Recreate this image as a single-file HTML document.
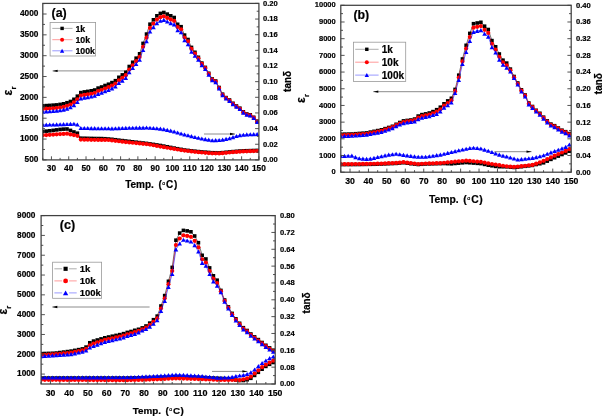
<!DOCTYPE html><html><head><meta charset="utf-8"><title>Dielectric</title><style>html,body{margin:0;padding:0;background:#fff;}svg{display:block;will-change:transform;}text{font-family:"Liberation Sans", sans-serif;font-weight:bold;fill:#000;stroke:#000;stroke-width:0.2px;}</style></head><body>
<svg width="602" height="416" viewBox="0 0 602 416">
<rect width="602" height="416" fill="#fff"/>
<defs><clipPath id="ca"><rect x="42.8" y="3.4" width="216.1" height="156.5"/></clipPath><clipPath id="cb"><rect x="340.8" y="5.3" width="230.4" height="166.9"/></clipPath><clipPath id="cc"><rect x="41.1" y="215.6" width="234.1" height="168.4"/></clipPath></defs>
<g clip-path="url(#ca)">
<path d="M42.8 105.8 L46.26 105.6 L49.72 105.4 L53.17 105.15 L56.63 104.9 L60.09 104.4 L63.55 103.8 L67 102.73 L70.46 101.47 L73.92 99.3 L77.38 96.2 L80.83 92.6 L84.29 91.9 L87.75 91.4 L91.21 90.8 L94.66 90 L98.12 88.1 L101.58 87 L105.04 85.5 L108.49 84.21 L111.95 82.61 L115.41 80.7 L118.87 77.3 L122.32 74.9 L125.78 72.2 L129.24 66.5 L132.7 62.3 L136.16 58.2 L139.61 53.8 L143.07 43.4 L146.53 34.1 L149.99 24.2 L153.44 19.8 L156.9 15.8 L160.36 13.4 L163.82 12.5 L167.27 14.1 L170.73 15.8 L174.19 17.5 L177.65 24.3 L181.1 26.7 L184.56 35.1 L188.02 39.5 L191.48 47.4 L194.93 52.3 L198.39 57.3 L201.85 63.1 L205.31 67.4 L208.76 73.3 L212.22 79 L215.68 81 L219.14 87.5 L222.6 94.2 L226.05 97.6 L229.51 100 L232.97 103.3 L236.43 106 L239.88 108.2 L243.34 111.8 L246.8 114 L250.26 114.8 L253.71 117.3 L257.17 121.2" fill="none" stroke="#000000" stroke-width="0.55"/>
<rect x="41" y="104" width="3.6" height="3.6" fill="#000"/><rect x="44.46" y="103.8" width="3.6" height="3.6" fill="#000"/><rect x="47.92" y="103.6" width="3.6" height="3.6" fill="#000"/><rect x="51.37" y="103.35" width="3.6" height="3.6" fill="#000"/><rect x="54.83" y="103.1" width="3.6" height="3.6" fill="#000"/><rect x="58.29" y="102.6" width="3.6" height="3.6" fill="#000"/><rect x="61.75" y="102" width="3.6" height="3.6" fill="#000"/><rect x="65.2" y="100.93" width="3.6" height="3.6" fill="#000"/><rect x="68.66" y="99.67" width="3.6" height="3.6" fill="#000"/><rect x="72.12" y="97.5" width="3.6" height="3.6" fill="#000"/><rect x="75.58" y="94.4" width="3.6" height="3.6" fill="#000"/><rect x="79.03" y="90.8" width="3.6" height="3.6" fill="#000"/><rect x="82.49" y="90.1" width="3.6" height="3.6" fill="#000"/><rect x="85.95" y="89.6" width="3.6" height="3.6" fill="#000"/><rect x="89.41" y="89" width="3.6" height="3.6" fill="#000"/><rect x="92.86" y="88.2" width="3.6" height="3.6" fill="#000"/><rect x="96.32" y="86.3" width="3.6" height="3.6" fill="#000"/><rect x="99.78" y="85.2" width="3.6" height="3.6" fill="#000"/><rect x="103.24" y="83.7" width="3.6" height="3.6" fill="#000"/><rect x="106.69" y="82.41" width="3.6" height="3.6" fill="#000"/><rect x="110.15" y="80.81" width="3.6" height="3.6" fill="#000"/><rect x="113.61" y="78.9" width="3.6" height="3.6" fill="#000"/><rect x="117.07" y="75.5" width="3.6" height="3.6" fill="#000"/><rect x="120.52" y="73.1" width="3.6" height="3.6" fill="#000"/><rect x="123.98" y="70.4" width="3.6" height="3.6" fill="#000"/><rect x="127.44" y="64.7" width="3.6" height="3.6" fill="#000"/><rect x="130.9" y="60.5" width="3.6" height="3.6" fill="#000"/><rect x="134.36" y="56.4" width="3.6" height="3.6" fill="#000"/><rect x="137.81" y="52" width="3.6" height="3.6" fill="#000"/><rect x="141.27" y="41.6" width="3.6" height="3.6" fill="#000"/><rect x="144.73" y="32.3" width="3.6" height="3.6" fill="#000"/><rect x="148.19" y="22.4" width="3.6" height="3.6" fill="#000"/><rect x="151.64" y="18" width="3.6" height="3.6" fill="#000"/><rect x="155.1" y="14" width="3.6" height="3.6" fill="#000"/><rect x="158.56" y="11.6" width="3.6" height="3.6" fill="#000"/><rect x="162.02" y="10.7" width="3.6" height="3.6" fill="#000"/><rect x="165.47" y="12.3" width="3.6" height="3.6" fill="#000"/><rect x="168.93" y="14" width="3.6" height="3.6" fill="#000"/><rect x="172.39" y="15.7" width="3.6" height="3.6" fill="#000"/><rect x="175.85" y="22.5" width="3.6" height="3.6" fill="#000"/><rect x="179.3" y="24.9" width="3.6" height="3.6" fill="#000"/><rect x="182.76" y="33.3" width="3.6" height="3.6" fill="#000"/><rect x="186.22" y="37.7" width="3.6" height="3.6" fill="#000"/><rect x="189.68" y="45.6" width="3.6" height="3.6" fill="#000"/><rect x="193.13" y="50.5" width="3.6" height="3.6" fill="#000"/><rect x="196.59" y="55.5" width="3.6" height="3.6" fill="#000"/><rect x="200.05" y="61.3" width="3.6" height="3.6" fill="#000"/><rect x="203.51" y="65.6" width="3.6" height="3.6" fill="#000"/><rect x="206.96" y="71.5" width="3.6" height="3.6" fill="#000"/><rect x="210.42" y="77.2" width="3.6" height="3.6" fill="#000"/><rect x="213.88" y="79.2" width="3.6" height="3.6" fill="#000"/><rect x="217.34" y="85.7" width="3.6" height="3.6" fill="#000"/><rect x="220.8" y="92.4" width="3.6" height="3.6" fill="#000"/><rect x="224.25" y="95.8" width="3.6" height="3.6" fill="#000"/><rect x="227.71" y="98.2" width="3.6" height="3.6" fill="#000"/><rect x="231.17" y="101.5" width="3.6" height="3.6" fill="#000"/><rect x="234.63" y="104.2" width="3.6" height="3.6" fill="#000"/><rect x="238.08" y="106.4" width="3.6" height="3.6" fill="#000"/><rect x="241.54" y="110" width="3.6" height="3.6" fill="#000"/><rect x="245" y="112.2" width="3.6" height="3.6" fill="#000"/><rect x="248.46" y="113" width="3.6" height="3.6" fill="#000"/><rect x="251.91" y="115.5" width="3.6" height="3.6" fill="#000"/><rect x="255.37" y="119.4" width="3.6" height="3.6" fill="#000"/>
<path d="M42.8 108.9 L46.26 108.7 L49.72 108.5 L53.17 108.25 L56.63 108 L60.09 107.5 L63.55 106.9 L67 105.83 L70.46 104.57 L73.92 102.4 L77.38 99.3 L80.83 95.6 L84.29 94.9 L87.75 94.4 L91.21 93.8 L94.66 93 L98.12 91.1 L101.58 90 L105.04 88.5 L108.49 87.21 L111.95 85.61 L115.41 83.7 L118.87 80.3 L122.32 77.9 L125.78 75.2 L129.24 69.5 L132.7 65.3 L136.16 61.2 L139.61 56.92 L143.07 46.76 L146.53 37.7 L149.99 27.88 L153.44 23.56 L156.9 19.6 L160.36 17.2 L163.82 16.3 L167.27 17.9 L170.73 19.6 L174.19 20.97 L177.65 27.1 L181.1 29.3 L184.56 37.5 L188.02 41.45 L191.48 48.9 L194.93 53.55 L198.39 58.3 L201.85 63.94 L205.31 68.08 L208.76 73.9 L212.22 79.59 L215.68 81.58 L219.14 88.08 L222.6 94.77 L226.05 98.16 L229.51 100.56 L232.97 103.85 L236.43 106.54 L239.88 108.74 L243.34 112.33 L246.8 114.52 L250.26 115.32 L253.71 117.81 L257.17 121.7" fill="none" stroke="#ff0000" stroke-width="0.55"/>
<circle cx="42.8" cy="108.9" r="2.1" fill="#f00"/><circle cx="46.26" cy="108.7" r="2.1" fill="#f00"/><circle cx="49.72" cy="108.5" r="2.1" fill="#f00"/><circle cx="53.17" cy="108.25" r="2.1" fill="#f00"/><circle cx="56.63" cy="108" r="2.1" fill="#f00"/><circle cx="60.09" cy="107.5" r="2.1" fill="#f00"/><circle cx="63.55" cy="106.9" r="2.1" fill="#f00"/><circle cx="67" cy="105.83" r="2.1" fill="#f00"/><circle cx="70.46" cy="104.57" r="2.1" fill="#f00"/><circle cx="73.92" cy="102.4" r="2.1" fill="#f00"/><circle cx="77.38" cy="99.3" r="2.1" fill="#f00"/><circle cx="80.83" cy="95.6" r="2.1" fill="#f00"/><circle cx="84.29" cy="94.9" r="2.1" fill="#f00"/><circle cx="87.75" cy="94.4" r="2.1" fill="#f00"/><circle cx="91.21" cy="93.8" r="2.1" fill="#f00"/><circle cx="94.66" cy="93" r="2.1" fill="#f00"/><circle cx="98.12" cy="91.1" r="2.1" fill="#f00"/><circle cx="101.58" cy="90" r="2.1" fill="#f00"/><circle cx="105.04" cy="88.5" r="2.1" fill="#f00"/><circle cx="108.49" cy="87.21" r="2.1" fill="#f00"/><circle cx="111.95" cy="85.61" r="2.1" fill="#f00"/><circle cx="115.41" cy="83.7" r="2.1" fill="#f00"/><circle cx="118.87" cy="80.3" r="2.1" fill="#f00"/><circle cx="122.32" cy="77.9" r="2.1" fill="#f00"/><circle cx="125.78" cy="75.2" r="2.1" fill="#f00"/><circle cx="129.24" cy="69.5" r="2.1" fill="#f00"/><circle cx="132.7" cy="65.3" r="2.1" fill="#f00"/><circle cx="136.16" cy="61.2" r="2.1" fill="#f00"/><circle cx="139.61" cy="56.92" r="2.1" fill="#f00"/><circle cx="143.07" cy="46.76" r="2.1" fill="#f00"/><circle cx="146.53" cy="37.7" r="2.1" fill="#f00"/><circle cx="149.99" cy="27.88" r="2.1" fill="#f00"/><circle cx="153.44" cy="23.56" r="2.1" fill="#f00"/><circle cx="156.9" cy="19.6" r="2.1" fill="#f00"/><circle cx="160.36" cy="17.2" r="2.1" fill="#f00"/><circle cx="163.82" cy="16.3" r="2.1" fill="#f00"/><circle cx="167.27" cy="17.9" r="2.1" fill="#f00"/><circle cx="170.73" cy="19.6" r="2.1" fill="#f00"/><circle cx="174.19" cy="20.97" r="2.1" fill="#f00"/><circle cx="177.65" cy="27.1" r="2.1" fill="#f00"/><circle cx="181.1" cy="29.3" r="2.1" fill="#f00"/><circle cx="184.56" cy="37.5" r="2.1" fill="#f00"/><circle cx="188.02" cy="41.45" r="2.1" fill="#f00"/><circle cx="191.48" cy="48.9" r="2.1" fill="#f00"/><circle cx="194.93" cy="53.55" r="2.1" fill="#f00"/><circle cx="198.39" cy="58.3" r="2.1" fill="#f00"/><circle cx="201.85" cy="63.94" r="2.1" fill="#f00"/><circle cx="205.31" cy="68.08" r="2.1" fill="#f00"/><circle cx="208.76" cy="73.9" r="2.1" fill="#f00"/><circle cx="212.22" cy="79.59" r="2.1" fill="#f00"/><circle cx="215.68" cy="81.58" r="2.1" fill="#f00"/><circle cx="219.14" cy="88.08" r="2.1" fill="#f00"/><circle cx="222.6" cy="94.77" r="2.1" fill="#f00"/><circle cx="226.05" cy="98.16" r="2.1" fill="#f00"/><circle cx="229.51" cy="100.56" r="2.1" fill="#f00"/><circle cx="232.97" cy="103.85" r="2.1" fill="#f00"/><circle cx="236.43" cy="106.54" r="2.1" fill="#f00"/><circle cx="239.88" cy="108.74" r="2.1" fill="#f00"/><circle cx="243.34" cy="112.33" r="2.1" fill="#f00"/><circle cx="246.8" cy="114.52" r="2.1" fill="#f00"/><circle cx="250.26" cy="115.32" r="2.1" fill="#f00"/><circle cx="253.71" cy="117.81" r="2.1" fill="#f00"/><circle cx="257.17" cy="121.7" r="2.1" fill="#f00"/>
<path d="M42.8 111.7 L46.26 111.5 L49.72 111.3 L53.17 111.05 L56.63 110.8 L60.09 110.3 L63.55 109.7 L67 108.63 L70.46 107.37 L73.92 105.2 L77.38 102.1 L80.83 98.4 L84.29 97.7 L87.75 97.2 L91.21 96.6 L94.66 95.8 L98.12 93.9 L101.58 92.8 L105.04 91.3 L108.49 90.01 L111.95 88.41 L115.41 86.5 L118.87 83.1 L122.32 80.7 L125.78 78 L129.24 72.3 L132.7 68.1 L136.16 64 L139.61 59.88 L143.07 50.04 L146.53 41.3 L149.99 31.48 L153.44 27.16 L156.9 23.2 L160.36 20.8 L163.82 19.9 L167.27 21.5 L170.73 23.2 L174.19 24.43 L177.65 30.3 L181.1 32.3 L184.56 40.3 L188.02 44.3 L191.48 51.8 L194.93 55.75 L198.39 59.8 L201.85 65.2 L205.31 69.1 L208.76 74.74 L212.22 80.32 L215.68 82.2 L219.14 88.58 L222.6 95.16 L226.05 98.49 L229.51 100.89 L232.97 104.17 L236.43 106.86 L239.88 109.06 L243.34 112.64 L246.8 114.83 L250.26 115.62 L253.71 118.11 L257.17 122.01" fill="none" stroke="#0000ff" stroke-width="0.55"/>
<path d="M42.8 109.6L45.1 113.7L40.5 113.7Z" fill="#00f"/><path d="M46.26 109.4L48.56 113.5L43.96 113.5Z" fill="#00f"/><path d="M49.72 109.2L52.02 113.3L47.42 113.3Z" fill="#00f"/><path d="M53.17 108.95L55.47 113.05L50.87 113.05Z" fill="#00f"/><path d="M56.63 108.7L58.93 112.8L54.33 112.8Z" fill="#00f"/><path d="M60.09 108.2L62.39 112.3L57.79 112.3Z" fill="#00f"/><path d="M63.55 107.6L65.85 111.7L61.25 111.7Z" fill="#00f"/><path d="M67 106.53L69.3 110.63L64.7 110.63Z" fill="#00f"/><path d="M70.46 105.27L72.76 109.36L68.16 109.36Z" fill="#00f"/><path d="M73.92 103.1L76.22 107.2L71.62 107.2Z" fill="#00f"/><path d="M77.38 100L79.68 104.1L75.08 104.1Z" fill="#00f"/><path d="M80.83 96.3L83.13 100.39L78.53 100.39Z" fill="#00f"/><path d="M84.29 95.6L86.59 99.7L81.99 99.7Z" fill="#00f"/><path d="M87.75 95.1L90.05 99.2L85.45 99.2Z" fill="#00f"/><path d="M91.21 94.5L93.51 98.59L88.91 98.59Z" fill="#00f"/><path d="M94.66 93.7L96.96 97.8L92.36 97.8Z" fill="#00f"/><path d="M98.12 91.8L100.42 95.89L95.82 95.89Z" fill="#00f"/><path d="M101.58 90.7L103.88 94.8L99.28 94.8Z" fill="#00f"/><path d="M105.04 89.2L107.34 93.3L102.74 93.3Z" fill="#00f"/><path d="M108.49 87.91L110.79 92L106.19 92Z" fill="#00f"/><path d="M111.95 86.31L114.25 90.41L109.65 90.41Z" fill="#00f"/><path d="M115.41 84.4L117.71 88.5L113.11 88.5Z" fill="#00f"/><path d="M118.87 81L121.17 85.09L116.57 85.09Z" fill="#00f"/><path d="M122.32 78.6L124.62 82.7L120.02 82.7Z" fill="#00f"/><path d="M125.78 75.9L128.08 80L123.48 80Z" fill="#00f"/><path d="M129.24 70.2L131.54 74.3L126.94 74.3Z" fill="#00f"/><path d="M132.7 66L135 70.09L130.4 70.09Z" fill="#00f"/><path d="M136.16 61.9L138.46 66L133.86 66Z" fill="#00f"/><path d="M139.61 57.78L141.91 61.87L137.31 61.87Z" fill="#00f"/><path d="M143.07 47.94L145.37 52.03L140.77 52.03Z" fill="#00f"/><path d="M146.53 39.2L148.83 43.3L144.23 43.3Z" fill="#00f"/><path d="M149.99 29.38L152.29 33.48L147.69 33.48Z" fill="#00f"/><path d="M153.44 25.06L155.74 29.16L151.14 29.16Z" fill="#00f"/><path d="M156.9 21.1L159.2 25.2L154.6 25.2Z" fill="#00f"/><path d="M160.36 18.7L162.66 22.8L158.06 22.8Z" fill="#00f"/><path d="M163.82 17.8L166.12 21.89L161.52 21.89Z" fill="#00f"/><path d="M167.27 19.4L169.57 23.5L164.97 23.5Z" fill="#00f"/><path d="M170.73 21.1L173.03 25.2L168.43 25.2Z" fill="#00f"/><path d="M174.19 22.33L176.49 26.43L171.89 26.43Z" fill="#00f"/><path d="M177.65 28.2L179.95 32.3L175.35 32.3Z" fill="#00f"/><path d="M181.1 30.2L183.4 34.29L178.8 34.29Z" fill="#00f"/><path d="M184.56 38.2L186.86 42.3L182.26 42.3Z" fill="#00f"/><path d="M188.02 42.2L190.32 46.29L185.72 46.29Z" fill="#00f"/><path d="M191.48 49.7L193.78 53.79L189.18 53.79Z" fill="#00f"/><path d="M194.93 53.65L197.23 57.74L192.63 57.74Z" fill="#00f"/><path d="M198.39 57.7L200.69 61.79L196.09 61.79Z" fill="#00f"/><path d="M201.85 63.1L204.15 67.2L199.55 67.2Z" fill="#00f"/><path d="M205.31 67L207.61 71.1L203.01 71.1Z" fill="#00f"/><path d="M208.76 72.64L211.06 76.73L206.46 76.73Z" fill="#00f"/><path d="M212.22 78.22L214.52 82.31L209.92 82.31Z" fill="#00f"/><path d="M215.68 80.1L217.98 84.2L213.38 84.2Z" fill="#00f"/><path d="M219.14 86.48L221.44 90.58L216.84 90.58Z" fill="#00f"/><path d="M222.6 93.06L224.9 97.16L220.3 97.16Z" fill="#00f"/><path d="M226.05 96.39L228.35 100.49L223.75 100.49Z" fill="#00f"/><path d="M229.51 98.79L231.81 102.88L227.21 102.88Z" fill="#00f"/><path d="M232.97 102.08L235.27 106.17L230.67 106.17Z" fill="#00f"/><path d="M236.43 104.77L238.73 108.86L234.13 108.86Z" fill="#00f"/><path d="M239.88 106.96L242.18 111.05L237.58 111.05Z" fill="#00f"/><path d="M243.34 110.55L245.64 114.64L241.04 114.64Z" fill="#00f"/><path d="M246.8 112.73L249.1 116.83L244.5 116.83Z" fill="#00f"/><path d="M250.26 113.53L252.56 117.62L247.96 117.62Z" fill="#00f"/><path d="M253.71 116.02L256.01 120.11L251.41 120.11Z" fill="#00f"/><path d="M257.17 119.91L259.47 124L254.87 124Z" fill="#00f"/>
<path d="M42.8 131.5 L46.26 131.14 L49.72 130.78 L53.17 130.37 L56.63 129.9 L60.09 129.43 L63.55 129.13 L67 129 L70.46 130.4 L73.92 131.96 L77.38 133.2 L80.83 138.2 L84.29 138.27 L87.75 138.35 L91.21 138.43 L94.66 138.5 L98.12 138.54 L101.58 138.58 L105.04 138.74 L108.49 139.02 L111.95 139.3 L115.41 139.74 L118.87 140.18 L122.32 140.6 L125.78 141 L129.24 141.4 L132.7 141.8 L136.16 142.2 L139.61 142.6 L143.07 143 L146.53 143.4 L149.99 143.87 L153.44 144.4 L156.9 144.93 L160.36 145.47 L163.82 146.1 L167.27 146.77 L170.73 147.43 L174.19 148.09 L177.65 148.73 L181.1 149.36 L184.56 150 L188.02 150.4 L191.48 150.79 L194.93 151.19 L198.39 151.58 L201.85 151.92 L205.31 152.18 L208.76 152.44 L212.22 152.7 L215.68 152.74 L219.14 152.78 L222.6 152.62 L226.05 152.27 L229.51 151.92 L232.97 151.61 L236.43 151.33 L239.88 151.04 L243.34 150.84 L246.8 150.73 L250.26 150.62 L253.71 150.51 L257.17 150.4" fill="none" stroke="#000000" stroke-width="0.55"/>
<rect x="41" y="129.7" width="3.6" height="3.6" fill="#000"/><rect x="44.46" y="129.34" width="3.6" height="3.6" fill="#000"/><rect x="47.92" y="128.98" width="3.6" height="3.6" fill="#000"/><rect x="51.37" y="128.57" width="3.6" height="3.6" fill="#000"/><rect x="54.83" y="128.1" width="3.6" height="3.6" fill="#000"/><rect x="58.29" y="127.63" width="3.6" height="3.6" fill="#000"/><rect x="61.75" y="127.33" width="3.6" height="3.6" fill="#000"/><rect x="65.2" y="127.2" width="3.6" height="3.6" fill="#000"/><rect x="68.66" y="128.6" width="3.6" height="3.6" fill="#000"/><rect x="72.12" y="130.16" width="3.6" height="3.6" fill="#000"/><rect x="75.58" y="131.4" width="3.6" height="3.6" fill="#000"/><rect x="79.03" y="136.4" width="3.6" height="3.6" fill="#000"/><rect x="82.49" y="136.47" width="3.6" height="3.6" fill="#000"/><rect x="85.95" y="136.55" width="3.6" height="3.6" fill="#000"/><rect x="89.41" y="136.62" width="3.6" height="3.6" fill="#000"/><rect x="92.86" y="136.7" width="3.6" height="3.6" fill="#000"/><rect x="96.32" y="136.74" width="3.6" height="3.6" fill="#000"/><rect x="99.78" y="136.78" width="3.6" height="3.6" fill="#000"/><rect x="103.24" y="136.94" width="3.6" height="3.6" fill="#000"/><rect x="106.69" y="137.22" width="3.6" height="3.6" fill="#000"/><rect x="110.15" y="137.5" width="3.6" height="3.6" fill="#000"/><rect x="113.61" y="137.94" width="3.6" height="3.6" fill="#000"/><rect x="117.07" y="138.38" width="3.6" height="3.6" fill="#000"/><rect x="120.52" y="138.8" width="3.6" height="3.6" fill="#000"/><rect x="123.98" y="139.2" width="3.6" height="3.6" fill="#000"/><rect x="127.44" y="139.6" width="3.6" height="3.6" fill="#000"/><rect x="130.9" y="140" width="3.6" height="3.6" fill="#000"/><rect x="134.36" y="140.4" width="3.6" height="3.6" fill="#000"/><rect x="137.81" y="140.8" width="3.6" height="3.6" fill="#000"/><rect x="141.27" y="141.2" width="3.6" height="3.6" fill="#000"/><rect x="144.73" y="141.6" width="3.6" height="3.6" fill="#000"/><rect x="148.19" y="142.07" width="3.6" height="3.6" fill="#000"/><rect x="151.64" y="142.6" width="3.6" height="3.6" fill="#000"/><rect x="155.1" y="143.13" width="3.6" height="3.6" fill="#000"/><rect x="158.56" y="143.67" width="3.6" height="3.6" fill="#000"/><rect x="162.02" y="144.3" width="3.6" height="3.6" fill="#000"/><rect x="165.47" y="144.97" width="3.6" height="3.6" fill="#000"/><rect x="168.93" y="145.63" width="3.6" height="3.6" fill="#000"/><rect x="172.39" y="146.29" width="3.6" height="3.6" fill="#000"/><rect x="175.85" y="146.93" width="3.6" height="3.6" fill="#000"/><rect x="179.3" y="147.56" width="3.6" height="3.6" fill="#000"/><rect x="182.76" y="148.2" width="3.6" height="3.6" fill="#000"/><rect x="186.22" y="148.6" width="3.6" height="3.6" fill="#000"/><rect x="189.68" y="148.99" width="3.6" height="3.6" fill="#000"/><rect x="193.13" y="149.39" width="3.6" height="3.6" fill="#000"/><rect x="196.59" y="149.78" width="3.6" height="3.6" fill="#000"/><rect x="200.05" y="150.12" width="3.6" height="3.6" fill="#000"/><rect x="203.51" y="150.38" width="3.6" height="3.6" fill="#000"/><rect x="206.96" y="150.64" width="3.6" height="3.6" fill="#000"/><rect x="210.42" y="150.9" width="3.6" height="3.6" fill="#000"/><rect x="213.88" y="150.94" width="3.6" height="3.6" fill="#000"/><rect x="217.34" y="150.98" width="3.6" height="3.6" fill="#000"/><rect x="220.8" y="150.82" width="3.6" height="3.6" fill="#000"/><rect x="224.25" y="150.47" width="3.6" height="3.6" fill="#000"/><rect x="227.71" y="150.12" width="3.6" height="3.6" fill="#000"/><rect x="231.17" y="149.81" width="3.6" height="3.6" fill="#000"/><rect x="234.63" y="149.53" width="3.6" height="3.6" fill="#000"/><rect x="238.08" y="149.24" width="3.6" height="3.6" fill="#000"/><rect x="241.54" y="149.04" width="3.6" height="3.6" fill="#000"/><rect x="245" y="148.93" width="3.6" height="3.6" fill="#000"/><rect x="248.46" y="148.82" width="3.6" height="3.6" fill="#000"/><rect x="251.91" y="148.71" width="3.6" height="3.6" fill="#000"/><rect x="255.37" y="148.6" width="3.6" height="3.6" fill="#000"/>
<path d="M42.8 135.3 L46.26 135.06 L49.72 134.83 L53.17 134.59 L56.63 134.35 L60.09 134.12 L63.55 133.9 L67 133.7 L70.46 134.38 L73.92 135.06 L77.38 135.8 L80.83 139.6 L84.29 139.66 L87.75 139.72 L91.21 139.78 L94.66 139.84 L98.12 139.9 L101.58 139.93 L105.04 139.97 L108.49 140 L111.95 140.43 L115.41 140.85 L118.87 141.27 L122.32 141.7 L125.78 142.04 L129.24 142.39 L132.7 142.73 L136.16 143.08 L139.61 143.43 L143.07 143.78 L146.53 144.12 L149.99 144.62 L153.44 145.26 L156.9 145.9 L160.36 146.54 L163.82 147.16 L167.27 147.77 L170.73 148.37 L174.19 148.96 L177.65 149.51 L181.1 150.05 L184.56 150.6 L188.02 151 L191.48 151.39 L194.93 151.79 L198.39 152.18 L201.85 152.52 L205.31 152.78 L208.76 153.04 L212.22 153.3 L215.68 153.34 L219.14 153.38 L222.6 153.22 L226.05 152.87 L229.51 152.52 L232.97 152.21 L236.43 151.93 L239.88 151.64 L243.34 151.44 L246.8 151.33 L250.26 151.22 L253.71 151.11 L257.17 151" fill="none" stroke="#ff0000" stroke-width="0.55"/>
<circle cx="42.8" cy="135.3" r="2.1" fill="#f00"/><circle cx="46.26" cy="135.06" r="2.1" fill="#f00"/><circle cx="49.72" cy="134.83" r="2.1" fill="#f00"/><circle cx="53.17" cy="134.59" r="2.1" fill="#f00"/><circle cx="56.63" cy="134.35" r="2.1" fill="#f00"/><circle cx="60.09" cy="134.12" r="2.1" fill="#f00"/><circle cx="63.55" cy="133.9" r="2.1" fill="#f00"/><circle cx="67" cy="133.7" r="2.1" fill="#f00"/><circle cx="70.46" cy="134.38" r="2.1" fill="#f00"/><circle cx="73.92" cy="135.06" r="2.1" fill="#f00"/><circle cx="77.38" cy="135.8" r="2.1" fill="#f00"/><circle cx="80.83" cy="139.6" r="2.1" fill="#f00"/><circle cx="84.29" cy="139.66" r="2.1" fill="#f00"/><circle cx="87.75" cy="139.72" r="2.1" fill="#f00"/><circle cx="91.21" cy="139.78" r="2.1" fill="#f00"/><circle cx="94.66" cy="139.84" r="2.1" fill="#f00"/><circle cx="98.12" cy="139.9" r="2.1" fill="#f00"/><circle cx="101.58" cy="139.93" r="2.1" fill="#f00"/><circle cx="105.04" cy="139.97" r="2.1" fill="#f00"/><circle cx="108.49" cy="140" r="2.1" fill="#f00"/><circle cx="111.95" cy="140.43" r="2.1" fill="#f00"/><circle cx="115.41" cy="140.85" r="2.1" fill="#f00"/><circle cx="118.87" cy="141.27" r="2.1" fill="#f00"/><circle cx="122.32" cy="141.7" r="2.1" fill="#f00"/><circle cx="125.78" cy="142.04" r="2.1" fill="#f00"/><circle cx="129.24" cy="142.39" r="2.1" fill="#f00"/><circle cx="132.7" cy="142.73" r="2.1" fill="#f00"/><circle cx="136.16" cy="143.08" r="2.1" fill="#f00"/><circle cx="139.61" cy="143.43" r="2.1" fill="#f00"/><circle cx="143.07" cy="143.78" r="2.1" fill="#f00"/><circle cx="146.53" cy="144.12" r="2.1" fill="#f00"/><circle cx="149.99" cy="144.62" r="2.1" fill="#f00"/><circle cx="153.44" cy="145.26" r="2.1" fill="#f00"/><circle cx="156.9" cy="145.9" r="2.1" fill="#f00"/><circle cx="160.36" cy="146.54" r="2.1" fill="#f00"/><circle cx="163.82" cy="147.16" r="2.1" fill="#f00"/><circle cx="167.27" cy="147.77" r="2.1" fill="#f00"/><circle cx="170.73" cy="148.37" r="2.1" fill="#f00"/><circle cx="174.19" cy="148.96" r="2.1" fill="#f00"/><circle cx="177.65" cy="149.51" r="2.1" fill="#f00"/><circle cx="181.1" cy="150.05" r="2.1" fill="#f00"/><circle cx="184.56" cy="150.6" r="2.1" fill="#f00"/><circle cx="188.02" cy="151" r="2.1" fill="#f00"/><circle cx="191.48" cy="151.39" r="2.1" fill="#f00"/><circle cx="194.93" cy="151.79" r="2.1" fill="#f00"/><circle cx="198.39" cy="152.18" r="2.1" fill="#f00"/><circle cx="201.85" cy="152.52" r="2.1" fill="#f00"/><circle cx="205.31" cy="152.78" r="2.1" fill="#f00"/><circle cx="208.76" cy="153.04" r="2.1" fill="#f00"/><circle cx="212.22" cy="153.3" r="2.1" fill="#f00"/><circle cx="215.68" cy="153.34" r="2.1" fill="#f00"/><circle cx="219.14" cy="153.38" r="2.1" fill="#f00"/><circle cx="222.6" cy="153.22" r="2.1" fill="#f00"/><circle cx="226.05" cy="152.87" r="2.1" fill="#f00"/><circle cx="229.51" cy="152.52" r="2.1" fill="#f00"/><circle cx="232.97" cy="152.21" r="2.1" fill="#f00"/><circle cx="236.43" cy="151.93" r="2.1" fill="#f00"/><circle cx="239.88" cy="151.64" r="2.1" fill="#f00"/><circle cx="243.34" cy="151.44" r="2.1" fill="#f00"/><circle cx="246.8" cy="151.33" r="2.1" fill="#f00"/><circle cx="250.26" cy="151.22" r="2.1" fill="#f00"/><circle cx="253.71" cy="151.11" r="2.1" fill="#f00"/><circle cx="257.17" cy="151" r="2.1" fill="#f00"/>
<path d="M42.8 124.8 L46.26 124.7 L49.72 124.6 L53.17 124.5 L56.63 124.4 L60.09 124.3 L63.55 124.17 L67 124.05 L70.46 123.92 L73.92 123.8 L77.38 124.5 L80.83 128 L84.29 128.05 L87.75 128.1 L91.21 128.15 L94.66 128.2 L98.12 128.24 L101.58 128.28 L105.04 128.32 L108.49 128.36 L111.95 128.4 L115.41 128.28 L118.87 128.16 L122.32 128.04 L125.78 127.92 L129.24 127.8 L132.7 127.76 L136.16 127.72 L139.61 127.68 L143.07 127.64 L146.53 127.6 L149.99 127.86 L153.44 128.12 L156.9 128.38 L160.36 128.64 L163.82 129.22 L167.27 129.91 L170.73 130.64 L174.19 131.5 L177.65 132.5 L181.1 133.5 L184.56 134.5 L188.02 135.34 L191.48 136.17 L194.93 137.01 L198.39 137.84 L201.85 138.56 L205.31 139.14 L208.76 139.72 L212.22 140.3 L215.68 140.15 L219.14 140 L222.6 139.68 L226.05 138.97 L229.51 138.25 L232.97 137.2 L236.43 135.97 L239.88 135.14 L243.34 134.77 L246.8 134.47 L250.26 134.35 L253.71 134.22 L257.17 134.1" fill="none" stroke="#0000ff" stroke-width="0.55"/>
<path d="M42.8 122.7L45.1 126.8L40.5 126.8Z" fill="#00f"/><path d="M46.26 122.6L48.56 126.7L43.96 126.7Z" fill="#00f"/><path d="M49.72 122.5L52.02 126.59L47.42 126.59Z" fill="#00f"/><path d="M53.17 122.4L55.47 126.5L50.87 126.5Z" fill="#00f"/><path d="M56.63 122.3L58.93 126.39L54.33 126.39Z" fill="#00f"/><path d="M60.09 122.2L62.39 126.3L57.79 126.3Z" fill="#00f"/><path d="M63.55 122.08L65.85 126.17L61.25 126.17Z" fill="#00f"/><path d="M67 121.95L69.3 126.05L64.7 126.05Z" fill="#00f"/><path d="M70.46 121.83L72.76 125.92L68.16 125.92Z" fill="#00f"/><path d="M73.92 121.7L76.22 125.8L71.62 125.8Z" fill="#00f"/><path d="M77.38 122.4L79.68 126.5L75.08 126.5Z" fill="#00f"/><path d="M80.83 125.9L83.13 130L78.53 130Z" fill="#00f"/><path d="M84.29 125.95L86.59 130.05L81.99 130.05Z" fill="#00f"/><path d="M87.75 126L90.05 130.09L85.45 130.09Z" fill="#00f"/><path d="M91.21 126.05L93.51 130.14L88.91 130.14Z" fill="#00f"/><path d="M94.66 126.1L96.96 130.19L92.36 130.19Z" fill="#00f"/><path d="M98.12 126.14L100.42 130.23L95.82 130.23Z" fill="#00f"/><path d="M101.58 126.18L103.88 130.28L99.28 130.28Z" fill="#00f"/><path d="M105.04 126.22L107.34 130.31L102.74 130.31Z" fill="#00f"/><path d="M108.49 126.26L110.79 130.36L106.19 130.36Z" fill="#00f"/><path d="M111.95 126.3L114.25 130.4L109.65 130.4Z" fill="#00f"/><path d="M115.41 126.18L117.71 130.28L113.11 130.28Z" fill="#00f"/><path d="M118.87 126.06L121.17 130.16L116.57 130.16Z" fill="#00f"/><path d="M122.32 125.94L124.62 130.03L120.02 130.03Z" fill="#00f"/><path d="M125.78 125.82L128.08 129.91L123.48 129.91Z" fill="#00f"/><path d="M129.24 125.7L131.54 129.79L126.94 129.79Z" fill="#00f"/><path d="M132.7 125.66L135 129.75L130.4 129.75Z" fill="#00f"/><path d="M136.16 125.62L138.46 129.72L133.86 129.72Z" fill="#00f"/><path d="M139.61 125.58L141.91 129.67L137.31 129.67Z" fill="#00f"/><path d="M143.07 125.54L145.37 129.63L140.77 129.63Z" fill="#00f"/><path d="M146.53 125.5L148.83 129.59L144.23 129.59Z" fill="#00f"/><path d="M149.99 125.76L152.29 129.85L147.69 129.85Z" fill="#00f"/><path d="M153.44 126.02L155.74 130.11L151.14 130.11Z" fill="#00f"/><path d="M156.9 126.28L159.2 130.37L154.6 130.37Z" fill="#00f"/><path d="M160.36 126.54L162.66 130.63L158.06 130.63Z" fill="#00f"/><path d="M163.82 127.12L166.12 131.22L161.52 131.22Z" fill="#00f"/><path d="M167.27 127.81L169.57 131.91L164.97 131.91Z" fill="#00f"/><path d="M170.73 128.54L173.03 132.63L168.43 132.63Z" fill="#00f"/><path d="M174.19 129.4L176.49 133.5L171.89 133.5Z" fill="#00f"/><path d="M177.65 130.4L179.95 134.5L175.35 134.5Z" fill="#00f"/><path d="M181.1 131.4L183.4 135.5L178.8 135.5Z" fill="#00f"/><path d="M184.56 132.4L186.86 136.5L182.26 136.5Z" fill="#00f"/><path d="M188.02 133.24L190.32 137.33L185.72 137.33Z" fill="#00f"/><path d="M191.48 134.07L193.78 138.17L189.18 138.17Z" fill="#00f"/><path d="M194.93 134.91L197.23 139L192.63 139Z" fill="#00f"/><path d="M198.39 135.74L200.69 139.84L196.09 139.84Z" fill="#00f"/><path d="M201.85 136.46L204.15 140.56L199.55 140.56Z" fill="#00f"/><path d="M205.31 137.04L207.61 141.14L203.01 141.14Z" fill="#00f"/><path d="M208.76 137.62L211.06 141.72L206.46 141.72Z" fill="#00f"/><path d="M212.22 138.2L214.52 142.3L209.92 142.3Z" fill="#00f"/><path d="M215.68 138.05L217.98 142.15L213.38 142.15Z" fill="#00f"/><path d="M219.14 137.9L221.44 142L216.84 142Z" fill="#00f"/><path d="M222.6 137.58L224.9 141.68L220.3 141.68Z" fill="#00f"/><path d="M226.05 136.87L228.35 140.96L223.75 140.96Z" fill="#00f"/><path d="M229.51 136.15L231.81 140.25L227.21 140.25Z" fill="#00f"/><path d="M232.97 135.1L235.27 139.2L230.67 139.2Z" fill="#00f"/><path d="M236.43 133.88L238.73 137.97L234.13 137.97Z" fill="#00f"/><path d="M239.88 133.04L242.18 137.13L237.58 137.13Z" fill="#00f"/><path d="M243.34 132.67L245.64 136.77L241.04 136.77Z" fill="#00f"/><path d="M246.8 132.37L249.1 136.46L244.5 136.46Z" fill="#00f"/><path d="M250.26 132.25L252.56 136.34L247.96 136.34Z" fill="#00f"/><path d="M253.71 132.12L256.01 136.22L251.41 136.22Z" fill="#00f"/><path d="M257.17 132L259.47 136.09L254.87 136.09Z" fill="#00f"/>
</g>
<rect x="42.8" y="3.4" width="216.1" height="156.5" fill="none" stroke="#404040" stroke-width="1.25"/>
<line x1="42.8" y1="159.9" x2="42.8" y2="157.9" stroke="#404040" stroke-width="0.9"/>
<line x1="51.44" y1="159.9" x2="51.44" y2="156.3" stroke="#404040" stroke-width="0.9"/>
<text x="51.44" y="171" font-size="8.8" text-anchor="middle" textLength="9.23" lengthAdjust="spacingAndGlyphs">30</text>
<line x1="60.09" y1="159.9" x2="60.09" y2="157.9" stroke="#404040" stroke-width="0.9"/>
<line x1="68.73" y1="159.9" x2="68.73" y2="156.3" stroke="#404040" stroke-width="0.9"/>
<text x="68.73" y="171" font-size="8.8" text-anchor="middle" textLength="9.23" lengthAdjust="spacingAndGlyphs">40</text>
<line x1="77.38" y1="159.9" x2="77.38" y2="157.9" stroke="#404040" stroke-width="0.9"/>
<line x1="86.02" y1="159.9" x2="86.02" y2="156.3" stroke="#404040" stroke-width="0.9"/>
<text x="86.02" y="171" font-size="8.8" text-anchor="middle" textLength="9.23" lengthAdjust="spacingAndGlyphs">50</text>
<line x1="94.66" y1="159.9" x2="94.66" y2="157.9" stroke="#404040" stroke-width="0.9"/>
<line x1="103.31" y1="159.9" x2="103.31" y2="156.3" stroke="#404040" stroke-width="0.9"/>
<text x="103.31" y="171" font-size="8.8" text-anchor="middle" textLength="9.23" lengthAdjust="spacingAndGlyphs">60</text>
<line x1="111.95" y1="159.9" x2="111.95" y2="157.9" stroke="#404040" stroke-width="0.9"/>
<line x1="120.6" y1="159.9" x2="120.6" y2="156.3" stroke="#404040" stroke-width="0.9"/>
<text x="120.6" y="171" font-size="8.8" text-anchor="middle" textLength="9.23" lengthAdjust="spacingAndGlyphs">70</text>
<line x1="129.24" y1="159.9" x2="129.24" y2="157.9" stroke="#404040" stroke-width="0.9"/>
<line x1="137.88" y1="159.9" x2="137.88" y2="156.3" stroke="#404040" stroke-width="0.9"/>
<text x="137.88" y="171" font-size="8.8" text-anchor="middle" textLength="9.23" lengthAdjust="spacingAndGlyphs">80</text>
<line x1="146.53" y1="159.9" x2="146.53" y2="157.9" stroke="#404040" stroke-width="0.9"/>
<line x1="155.17" y1="159.9" x2="155.17" y2="156.3" stroke="#404040" stroke-width="0.9"/>
<text x="155.17" y="171" font-size="8.8" text-anchor="middle" textLength="9.23" lengthAdjust="spacingAndGlyphs">90</text>
<line x1="163.82" y1="159.9" x2="163.82" y2="157.9" stroke="#404040" stroke-width="0.9"/>
<line x1="172.46" y1="159.9" x2="172.46" y2="156.3" stroke="#404040" stroke-width="0.9"/>
<text x="172.46" y="171" font-size="8.8" text-anchor="middle" textLength="13.84" lengthAdjust="spacingAndGlyphs">100</text>
<line x1="181.1" y1="159.9" x2="181.1" y2="157.9" stroke="#404040" stroke-width="0.9"/>
<line x1="189.75" y1="159.9" x2="189.75" y2="156.3" stroke="#404040" stroke-width="0.9"/>
<text x="189.75" y="171" font-size="8.8" text-anchor="middle" textLength="13.84" lengthAdjust="spacingAndGlyphs">110</text>
<line x1="198.39" y1="159.9" x2="198.39" y2="157.9" stroke="#404040" stroke-width="0.9"/>
<line x1="207.04" y1="159.9" x2="207.04" y2="156.3" stroke="#404040" stroke-width="0.9"/>
<text x="207.04" y="171" font-size="8.8" text-anchor="middle" textLength="13.84" lengthAdjust="spacingAndGlyphs">120</text>
<line x1="215.68" y1="159.9" x2="215.68" y2="157.9" stroke="#404040" stroke-width="0.9"/>
<line x1="224.32" y1="159.9" x2="224.32" y2="156.3" stroke="#404040" stroke-width="0.9"/>
<text x="224.32" y="171" font-size="8.8" text-anchor="middle" textLength="13.84" lengthAdjust="spacingAndGlyphs">130</text>
<line x1="232.97" y1="159.9" x2="232.97" y2="157.9" stroke="#404040" stroke-width="0.9"/>
<line x1="241.61" y1="159.9" x2="241.61" y2="156.3" stroke="#404040" stroke-width="0.9"/>
<text x="241.61" y="171" font-size="8.8" text-anchor="middle" textLength="13.84" lengthAdjust="spacingAndGlyphs">140</text>
<line x1="250.26" y1="159.9" x2="250.26" y2="157.9" stroke="#404040" stroke-width="0.9"/>
<line x1="258.9" y1="159.9" x2="258.9" y2="156.3" stroke="#404040" stroke-width="0.9"/>
<text x="258.9" y="171" font-size="8.8" text-anchor="middle" textLength="13.84" lengthAdjust="spacingAndGlyphs">150</text>
<line x1="42.8" y1="159.9" x2="46.6" y2="159.9" stroke="#404040" stroke-width="0.9"/>
<text x="38.4" y="162.28" font-size="8.8" text-anchor="end" textLength="13.84" lengthAdjust="spacingAndGlyphs">500</text>
<line x1="42.8" y1="149.48" x2="45" y2="149.48" stroke="#404040" stroke-width="0.9"/>
<line x1="42.8" y1="139.06" x2="46.6" y2="139.06" stroke="#404040" stroke-width="0.9"/>
<text x="38.4" y="141.43" font-size="8.8" text-anchor="end" textLength="18.46" lengthAdjust="spacingAndGlyphs">1000</text>
<line x1="42.8" y1="128.64" x2="45" y2="128.64" stroke="#404040" stroke-width="0.9"/>
<line x1="42.8" y1="118.21" x2="46.6" y2="118.21" stroke="#404040" stroke-width="0.9"/>
<text x="38.4" y="120.59" font-size="8.8" text-anchor="end" textLength="18.46" lengthAdjust="spacingAndGlyphs">1500</text>
<line x1="42.8" y1="107.79" x2="45" y2="107.79" stroke="#404040" stroke-width="0.9"/>
<line x1="42.8" y1="97.37" x2="46.6" y2="97.37" stroke="#404040" stroke-width="0.9"/>
<text x="38.4" y="99.75" font-size="8.8" text-anchor="end" textLength="18.46" lengthAdjust="spacingAndGlyphs">2000</text>
<line x1="42.8" y1="86.95" x2="45" y2="86.95" stroke="#404040" stroke-width="0.9"/>
<line x1="42.8" y1="76.53" x2="46.6" y2="76.53" stroke="#404040" stroke-width="0.9"/>
<text x="38.4" y="78.9" font-size="8.8" text-anchor="end" textLength="18.46" lengthAdjust="spacingAndGlyphs">2500</text>
<line x1="42.8" y1="66.11" x2="45" y2="66.11" stroke="#404040" stroke-width="0.9"/>
<line x1="42.8" y1="55.69" x2="46.6" y2="55.69" stroke="#404040" stroke-width="0.9"/>
<text x="38.4" y="58.06" font-size="8.8" text-anchor="end" textLength="18.46" lengthAdjust="spacingAndGlyphs">3000</text>
<line x1="42.8" y1="45.26" x2="45" y2="45.26" stroke="#404040" stroke-width="0.9"/>
<line x1="42.8" y1="34.84" x2="46.6" y2="34.84" stroke="#404040" stroke-width="0.9"/>
<text x="38.4" y="37.22" font-size="8.8" text-anchor="end" textLength="18.46" lengthAdjust="spacingAndGlyphs">3500</text>
<line x1="42.8" y1="24.42" x2="45" y2="24.42" stroke="#404040" stroke-width="0.9"/>
<line x1="42.8" y1="14" x2="46.6" y2="14" stroke="#404040" stroke-width="0.9"/>
<text x="38.4" y="16.38" font-size="8.8" text-anchor="end" textLength="18.46" lengthAdjust="spacingAndGlyphs">4000</text>
<line x1="42.8" y1="3.58" x2="45" y2="3.58" stroke="#404040" stroke-width="0.9"/>
<line x1="258.9" y1="159.9" x2="255.1" y2="159.9" stroke="#404040" stroke-width="0.9"/>
<text x="263" y="162.32" font-size="8.06" textLength="14.79" lengthAdjust="spacingAndGlyphs">0.00</text>
<line x1="258.9" y1="152.08" x2="256.7" y2="152.08" stroke="#404040" stroke-width="0.9"/>
<line x1="258.9" y1="144.25" x2="255.1" y2="144.25" stroke="#404040" stroke-width="0.9"/>
<text x="263" y="146.67" font-size="8.06" textLength="14.79" lengthAdjust="spacingAndGlyphs">0.02</text>
<line x1="258.9" y1="136.43" x2="256.7" y2="136.43" stroke="#404040" stroke-width="0.9"/>
<line x1="258.9" y1="128.6" x2="255.1" y2="128.6" stroke="#404040" stroke-width="0.9"/>
<text x="263" y="131.02" font-size="8.06" textLength="14.79" lengthAdjust="spacingAndGlyphs">0.04</text>
<line x1="258.9" y1="120.78" x2="256.7" y2="120.78" stroke="#404040" stroke-width="0.9"/>
<line x1="258.9" y1="112.95" x2="255.1" y2="112.95" stroke="#404040" stroke-width="0.9"/>
<text x="263" y="115.37" font-size="8.06" textLength="14.79" lengthAdjust="spacingAndGlyphs">0.06</text>
<line x1="258.9" y1="105.12" x2="256.7" y2="105.12" stroke="#404040" stroke-width="0.9"/>
<line x1="258.9" y1="97.3" x2="255.1" y2="97.3" stroke="#404040" stroke-width="0.9"/>
<text x="263" y="99.72" font-size="8.06" textLength="14.79" lengthAdjust="spacingAndGlyphs">0.08</text>
<line x1="258.9" y1="89.48" x2="256.7" y2="89.48" stroke="#404040" stroke-width="0.9"/>
<line x1="258.9" y1="81.65" x2="255.1" y2="81.65" stroke="#404040" stroke-width="0.9"/>
<text x="263" y="84.07" font-size="8.06" textLength="14.79" lengthAdjust="spacingAndGlyphs">0.10</text>
<line x1="258.9" y1="73.83" x2="256.7" y2="73.83" stroke="#404040" stroke-width="0.9"/>
<line x1="258.9" y1="66" x2="255.1" y2="66" stroke="#404040" stroke-width="0.9"/>
<text x="263" y="68.42" font-size="8.06" textLength="14.79" lengthAdjust="spacingAndGlyphs">0.12</text>
<line x1="258.9" y1="58.17" x2="256.7" y2="58.17" stroke="#404040" stroke-width="0.9"/>
<line x1="258.9" y1="50.35" x2="255.1" y2="50.35" stroke="#404040" stroke-width="0.9"/>
<text x="263" y="52.77" font-size="8.06" textLength="14.79" lengthAdjust="spacingAndGlyphs">0.14</text>
<line x1="258.9" y1="42.53" x2="256.7" y2="42.53" stroke="#404040" stroke-width="0.9"/>
<line x1="258.9" y1="34.7" x2="255.1" y2="34.7" stroke="#404040" stroke-width="0.9"/>
<text x="263" y="37.12" font-size="8.06" textLength="14.79" lengthAdjust="spacingAndGlyphs">0.16</text>
<line x1="258.9" y1="26.88" x2="256.7" y2="26.88" stroke="#404040" stroke-width="0.9"/>
<line x1="258.9" y1="19.05" x2="255.1" y2="19.05" stroke="#404040" stroke-width="0.9"/>
<text x="263" y="21.47" font-size="8.06" textLength="14.79" lengthAdjust="spacingAndGlyphs">0.18</text>
<line x1="258.9" y1="11.22" x2="256.7" y2="11.22" stroke="#404040" stroke-width="0.9"/>
<line x1="258.9" y1="3.4" x2="255.1" y2="3.4" stroke="#404040" stroke-width="0.9"/>
<text x="263" y="5.82" font-size="8.06" textLength="14.79" lengthAdjust="spacingAndGlyphs">0.20</text>
<rect x="50.1" y="22.4" width="45.5" height="33.6" fill="#fff" stroke="#999" stroke-width="0.8"/>
<line x1="52.3" y1="28.4" x2="72.5" y2="28.4" stroke="#999" stroke-width="0.8"/>
<rect x="60.39" y="26.69" width="3.42" height="3.42" fill="#000"/>
<text x="75.4" y="31.57" font-size="8.8">1k</text>
<line x1="52.3" y1="39.7" x2="72.5" y2="39.7" stroke="#ff8080" stroke-width="0.8"/>
<circle cx="62.1" cy="39.7" r="1.99" fill="#f00"/>
<text x="75.4" y="42.87" font-size="8.8">10k</text>
<line x1="52.3" y1="50.8" x2="72.5" y2="50.8" stroke="#8080ff" stroke-width="0.8"/>
<path d="M62.1 48.8L64.28 52.7L59.91 52.7Z" fill="#00f"/>
<text x="75.4" y="53.97" font-size="8.8">100k</text>
<text x="51.6" y="17.4" font-size="12.4">(a)</text>
<line x1="52.6" y1="70.9" x2="124.2" y2="70.9" stroke="#8c8c8c" stroke-width="1.0"/>
<path d="M52.6 70.9L57.6 69.75L57.6 72.05Z" fill="#000"/>
<line x1="204" y1="134" x2="235" y2="134" stroke="#8c8c8c" stroke-width="1.0"/>
<path d="M235 134L230 132.85L230 135.15Z" fill="#000"/>
<g transform="translate(12.2 95.4) rotate(-90)"><text x="0" y="0" font-size="12" font-family="'Liberation Serif', serif" font-weight="normal">&#949;<tspan font-family="'Liberation Sans', sans-serif" font-weight="bold" font-size="7.68" dx="0.2" dy="3.9">r</tspan></text></g>
<g transform="translate(290.6 81.4) rotate(-90)"><text x="0" y="0" font-size="10" text-anchor="middle">tan&#948;</text></g>
<text x="125.2" y="187.9" font-size="10">Temp.<tspan dx="4.5">(</tspan><tspan font-size="5.2" font-weight="normal" dx="0.5" dy="-2.7">o</tspan><tspan dx="0.9" dy="2.7">C</tspan><tspan dx="0.6">)</tspan></text>
<g clip-path="url(#cb)">
<path d="M340.8 134.2 L344.49 134.13 L348.17 134.07 L351.86 134 L355.55 133.72 L359.23 133.45 L362.92 133.18 L366.6 132.9 L370.29 132.12 L373.98 131.35 L377.66 130.58 L381.35 129.8 L385.04 128.63 L388.72 127.47 L392.41 126.3 L396.1 124.3 L399.78 122.5 L403.47 120.9 L407.16 120.45 L410.84 120 L414.53 119.07 L418.21 116.07 L421.9 114.6 L425.59 113.9 L429.27 113 L432.96 111.6 L436.65 109.7 L440.33 107.2 L444.02 103.8 L447.71 100.9 L451.39 98.3 L455.08 89.4 L458.76 75.2 L462.45 59 L466.14 45.3 L469.82 33.4 L473.51 23.7 L477.2 23 L480.88 22.3 L484.57 26.2 L488.26 29.5 L491.94 40.6 L495.63 46.8 L499.32 54 L503 60.2 L506.69 63.1 L510.37 69.1 L514.06 76.5 L517.75 83 L521.43 89.8 L525.12 95 L528.81 103 L532.49 106.5 L536.18 110.3 L539.87 113.3 L543.55 117.2 L547.24 120.9 L550.92 124.1 L554.61 125.7 L558.3 128 L561.98 130.2 L565.67 131.7 L569.36 133.6" fill="none" stroke="#000000" stroke-width="0.55"/>
<rect x="339" y="132.4" width="3.6" height="3.6" fill="#000"/><rect x="342.69" y="132.33" width="3.6" height="3.6" fill="#000"/><rect x="346.37" y="132.27" width="3.6" height="3.6" fill="#000"/><rect x="350.06" y="132.2" width="3.6" height="3.6" fill="#000"/><rect x="353.75" y="131.92" width="3.6" height="3.6" fill="#000"/><rect x="357.43" y="131.65" width="3.6" height="3.6" fill="#000"/><rect x="361.12" y="131.38" width="3.6" height="3.6" fill="#000"/><rect x="364.8" y="131.1" width="3.6" height="3.6" fill="#000"/><rect x="368.49" y="130.32" width="3.6" height="3.6" fill="#000"/><rect x="372.18" y="129.55" width="3.6" height="3.6" fill="#000"/><rect x="375.86" y="128.78" width="3.6" height="3.6" fill="#000"/><rect x="379.55" y="128" width="3.6" height="3.6" fill="#000"/><rect x="383.24" y="126.83" width="3.6" height="3.6" fill="#000"/><rect x="386.92" y="125.67" width="3.6" height="3.6" fill="#000"/><rect x="390.61" y="124.5" width="3.6" height="3.6" fill="#000"/><rect x="394.3" y="122.5" width="3.6" height="3.6" fill="#000"/><rect x="397.98" y="120.7" width="3.6" height="3.6" fill="#000"/><rect x="401.67" y="119.1" width="3.6" height="3.6" fill="#000"/><rect x="405.36" y="118.65" width="3.6" height="3.6" fill="#000"/><rect x="409.04" y="118.2" width="3.6" height="3.6" fill="#000"/><rect x="412.73" y="117.27" width="3.6" height="3.6" fill="#000"/><rect x="416.41" y="114.27" width="3.6" height="3.6" fill="#000"/><rect x="420.1" y="112.8" width="3.6" height="3.6" fill="#000"/><rect x="423.79" y="112.1" width="3.6" height="3.6" fill="#000"/><rect x="427.47" y="111.2" width="3.6" height="3.6" fill="#000"/><rect x="431.16" y="109.8" width="3.6" height="3.6" fill="#000"/><rect x="434.85" y="107.9" width="3.6" height="3.6" fill="#000"/><rect x="438.53" y="105.4" width="3.6" height="3.6" fill="#000"/><rect x="442.22" y="102" width="3.6" height="3.6" fill="#000"/><rect x="445.91" y="99.1" width="3.6" height="3.6" fill="#000"/><rect x="449.59" y="96.5" width="3.6" height="3.6" fill="#000"/><rect x="453.28" y="87.6" width="3.6" height="3.6" fill="#000"/><rect x="456.96" y="73.4" width="3.6" height="3.6" fill="#000"/><rect x="460.65" y="57.2" width="3.6" height="3.6" fill="#000"/><rect x="464.34" y="43.5" width="3.6" height="3.6" fill="#000"/><rect x="468.02" y="31.6" width="3.6" height="3.6" fill="#000"/><rect x="471.71" y="21.9" width="3.6" height="3.6" fill="#000"/><rect x="475.4" y="21.2" width="3.6" height="3.6" fill="#000"/><rect x="479.08" y="20.5" width="3.6" height="3.6" fill="#000"/><rect x="482.77" y="24.4" width="3.6" height="3.6" fill="#000"/><rect x="486.46" y="27.7" width="3.6" height="3.6" fill="#000"/><rect x="490.14" y="38.8" width="3.6" height="3.6" fill="#000"/><rect x="493.83" y="45" width="3.6" height="3.6" fill="#000"/><rect x="497.52" y="52.2" width="3.6" height="3.6" fill="#000"/><rect x="501.2" y="58.4" width="3.6" height="3.6" fill="#000"/><rect x="504.89" y="61.3" width="3.6" height="3.6" fill="#000"/><rect x="508.57" y="67.3" width="3.6" height="3.6" fill="#000"/><rect x="512.26" y="74.7" width="3.6" height="3.6" fill="#000"/><rect x="515.95" y="81.2" width="3.6" height="3.6" fill="#000"/><rect x="519.63" y="88" width="3.6" height="3.6" fill="#000"/><rect x="523.32" y="93.2" width="3.6" height="3.6" fill="#000"/><rect x="527.01" y="101.2" width="3.6" height="3.6" fill="#000"/><rect x="530.69" y="104.7" width="3.6" height="3.6" fill="#000"/><rect x="534.38" y="108.5" width="3.6" height="3.6" fill="#000"/><rect x="538.07" y="111.5" width="3.6" height="3.6" fill="#000"/><rect x="541.75" y="115.4" width="3.6" height="3.6" fill="#000"/><rect x="545.44" y="119.1" width="3.6" height="3.6" fill="#000"/><rect x="549.12" y="122.3" width="3.6" height="3.6" fill="#000"/><rect x="552.81" y="123.9" width="3.6" height="3.6" fill="#000"/><rect x="556.5" y="126.2" width="3.6" height="3.6" fill="#000"/><rect x="560.18" y="128.4" width="3.6" height="3.6" fill="#000"/><rect x="563.87" y="129.9" width="3.6" height="3.6" fill="#000"/><rect x="567.56" y="131.8" width="3.6" height="3.6" fill="#000"/>
<path d="M340.8 135.16 L344.49 135.06 L348.17 134.96 L351.86 134.86 L355.55 134.59 L359.23 134.31 L362.92 134.04 L366.6 133.76 L370.29 133.04 L373.98 132.31 L377.66 131.58 L381.35 130.86 L385.04 129.64 L388.72 128.43 L392.41 127.21 L396.1 125.21 L399.78 123.5 L403.47 122.06 L407.16 121.42 L410.84 120.96 L414.53 120.19 L418.21 117.57 L421.9 116.14 L425.59 115.39 L429.27 114.58 L432.96 113.23 L436.65 111.72 L440.33 109.31 L444.02 105.67 L447.71 103.01 L451.39 100.32 L455.08 91.18 L458.76 77.5 L462.45 61.45 L466.14 48.56 L469.82 37.05 L473.51 27.64 L477.2 26.79 L480.88 26.09 L484.57 29.85 L488.26 32.96 L491.94 43.77 L495.63 49.58 L499.32 56.78 L503 62.41 L506.69 65.31 L510.37 70.3 L514.06 77.27 L517.75 83.77 L521.43 90.62 L525.12 95.72 L528.81 103.72 L532.49 107.17 L536.18 110.92 L539.87 114.02 L543.55 117.92 L547.24 121.62 L550.92 124.82 L554.61 126.42 L558.3 128.72 L561.98 130.92 L565.67 132.42 L569.36 134.46" fill="none" stroke="#ff0000" stroke-width="0.55"/>
<circle cx="340.8" cy="135.16" r="2.1" fill="#f00"/><circle cx="344.49" cy="135.06" r="2.1" fill="#f00"/><circle cx="348.17" cy="134.96" r="2.1" fill="#f00"/><circle cx="351.86" cy="134.86" r="2.1" fill="#f00"/><circle cx="355.55" cy="134.59" r="2.1" fill="#f00"/><circle cx="359.23" cy="134.31" r="2.1" fill="#f00"/><circle cx="362.92" cy="134.04" r="2.1" fill="#f00"/><circle cx="366.6" cy="133.76" r="2.1" fill="#f00"/><circle cx="370.29" cy="133.04" r="2.1" fill="#f00"/><circle cx="373.98" cy="132.31" r="2.1" fill="#f00"/><circle cx="377.66" cy="131.58" r="2.1" fill="#f00"/><circle cx="381.35" cy="130.86" r="2.1" fill="#f00"/><circle cx="385.04" cy="129.64" r="2.1" fill="#f00"/><circle cx="388.72" cy="128.43" r="2.1" fill="#f00"/><circle cx="392.41" cy="127.21" r="2.1" fill="#f00"/><circle cx="396.1" cy="125.21" r="2.1" fill="#f00"/><circle cx="399.78" cy="123.5" r="2.1" fill="#f00"/><circle cx="403.47" cy="122.06" r="2.1" fill="#f00"/><circle cx="407.16" cy="121.42" r="2.1" fill="#f00"/><circle cx="410.84" cy="120.96" r="2.1" fill="#f00"/><circle cx="414.53" cy="120.19" r="2.1" fill="#f00"/><circle cx="418.21" cy="117.57" r="2.1" fill="#f00"/><circle cx="421.9" cy="116.14" r="2.1" fill="#f00"/><circle cx="425.59" cy="115.39" r="2.1" fill="#f00"/><circle cx="429.27" cy="114.58" r="2.1" fill="#f00"/><circle cx="432.96" cy="113.23" r="2.1" fill="#f00"/><circle cx="436.65" cy="111.72" r="2.1" fill="#f00"/><circle cx="440.33" cy="109.31" r="2.1" fill="#f00"/><circle cx="444.02" cy="105.67" r="2.1" fill="#f00"/><circle cx="447.71" cy="103.01" r="2.1" fill="#f00"/><circle cx="451.39" cy="100.32" r="2.1" fill="#f00"/><circle cx="455.08" cy="91.18" r="2.1" fill="#f00"/><circle cx="458.76" cy="77.5" r="2.1" fill="#f00"/><circle cx="462.45" cy="61.45" r="2.1" fill="#f00"/><circle cx="466.14" cy="48.56" r="2.1" fill="#f00"/><circle cx="469.82" cy="37.05" r="2.1" fill="#f00"/><circle cx="473.51" cy="27.64" r="2.1" fill="#f00"/><circle cx="477.2" cy="26.79" r="2.1" fill="#f00"/><circle cx="480.88" cy="26.09" r="2.1" fill="#f00"/><circle cx="484.57" cy="29.85" r="2.1" fill="#f00"/><circle cx="488.26" cy="32.96" r="2.1" fill="#f00"/><circle cx="491.94" cy="43.77" r="2.1" fill="#f00"/><circle cx="495.63" cy="49.58" r="2.1" fill="#f00"/><circle cx="499.32" cy="56.78" r="2.1" fill="#f00"/><circle cx="503" cy="62.41" r="2.1" fill="#f00"/><circle cx="506.69" cy="65.31" r="2.1" fill="#f00"/><circle cx="510.37" cy="70.3" r="2.1" fill="#f00"/><circle cx="514.06" cy="77.27" r="2.1" fill="#f00"/><circle cx="517.75" cy="83.77" r="2.1" fill="#f00"/><circle cx="521.43" cy="90.62" r="2.1" fill="#f00"/><circle cx="525.12" cy="95.72" r="2.1" fill="#f00"/><circle cx="528.81" cy="103.72" r="2.1" fill="#f00"/><circle cx="532.49" cy="107.17" r="2.1" fill="#f00"/><circle cx="536.18" cy="110.92" r="2.1" fill="#f00"/><circle cx="539.87" cy="114.02" r="2.1" fill="#f00"/><circle cx="543.55" cy="117.92" r="2.1" fill="#f00"/><circle cx="547.24" cy="121.62" r="2.1" fill="#f00"/><circle cx="550.92" cy="124.82" r="2.1" fill="#f00"/><circle cx="554.61" cy="126.42" r="2.1" fill="#f00"/><circle cx="558.3" cy="128.72" r="2.1" fill="#f00"/><circle cx="561.98" cy="130.92" r="2.1" fill="#f00"/><circle cx="565.67" cy="132.42" r="2.1" fill="#f00"/><circle cx="569.36" cy="134.46" r="2.1" fill="#f00"/>
<path d="M340.8 136.2 L344.49 136.07 L348.17 135.93 L351.86 135.8 L355.55 135.53 L359.23 135.25 L362.92 134.98 L366.6 134.7 L370.29 134.03 L373.98 133.35 L377.66 132.68 L381.35 132 L385.04 130.73 L388.72 129.47 L392.41 128.2 L396.1 126.2 L399.78 124.58 L403.47 123.33 L407.16 122.47 L410.84 122 L414.53 121.4 L418.21 119.2 L421.9 117.8 L425.59 117 L429.27 116.3 L432.96 115 L436.65 113.9 L440.33 111.6 L444.02 107.7 L447.71 105.3 L451.39 102.5 L455.08 93.1 L458.76 80 L462.45 64.1 L466.14 52.1 L469.82 41 L473.51 31.9 L477.2 30.9 L480.88 30.2 L484.57 33.8 L488.26 36.7 L491.94 47.2 L495.63 52.6 L499.32 59.8 L503 64.8 L506.69 67.7 L510.37 71.6 L514.06 78.1 L517.75 84.6 L521.43 91.5 L525.12 96.5 L528.81 104.5 L532.49 107.9 L536.18 111.6 L539.87 114.8 L543.55 118.7 L547.24 122.4 L550.92 125.6 L554.61 127.2 L558.3 129.5 L561.98 131.7 L565.67 133.2 L569.36 135.4" fill="none" stroke="#0000ff" stroke-width="0.55"/>
<path d="M340.8 134.1L343.1 138.2L338.5 138.2Z" fill="#00f"/><path d="M344.49 133.97L346.79 138.06L342.19 138.06Z" fill="#00f"/><path d="M348.17 133.83L350.47 137.93L345.87 137.93Z" fill="#00f"/><path d="M351.86 133.7L354.16 137.8L349.56 137.8Z" fill="#00f"/><path d="M355.55 133.43L357.85 137.52L353.25 137.52Z" fill="#00f"/><path d="M359.23 133.15L361.53 137.25L356.93 137.25Z" fill="#00f"/><path d="M362.92 132.88L365.22 136.97L360.62 136.97Z" fill="#00f"/><path d="M366.6 132.6L368.9 136.7L364.3 136.7Z" fill="#00f"/><path d="M370.29 131.93L372.59 136.02L367.99 136.02Z" fill="#00f"/><path d="M373.98 131.25L376.28 135.35L371.68 135.35Z" fill="#00f"/><path d="M377.66 130.58L379.96 134.67L375.36 134.67Z" fill="#00f"/><path d="M381.35 129.9L383.65 134L379.05 134Z" fill="#00f"/><path d="M385.04 128.63L387.34 132.73L382.74 132.73Z" fill="#00f"/><path d="M388.72 127.37L391.02 131.46L386.42 131.46Z" fill="#00f"/><path d="M392.41 126.1L394.71 130.2L390.11 130.2Z" fill="#00f"/><path d="M396.1 124.1L398.4 128.19L393.8 128.19Z" fill="#00f"/><path d="M399.78 122.48L402.08 126.57L397.48 126.57Z" fill="#00f"/><path d="M403.47 121.23L405.77 125.32L401.17 125.32Z" fill="#00f"/><path d="M407.16 120.37L409.46 124.46L404.86 124.46Z" fill="#00f"/><path d="M410.84 119.9L413.14 124L408.54 124Z" fill="#00f"/><path d="M414.53 119.3L416.83 123.4L412.23 123.4Z" fill="#00f"/><path d="M418.21 117.1L420.51 121.2L415.91 121.2Z" fill="#00f"/><path d="M421.9 115.7L424.2 119.8L419.6 119.8Z" fill="#00f"/><path d="M425.59 114.9L427.89 119L423.29 119Z" fill="#00f"/><path d="M429.27 114.2L431.57 118.3L426.97 118.3Z" fill="#00f"/><path d="M432.96 112.9L435.26 117L430.66 117Z" fill="#00f"/><path d="M436.65 111.8L438.95 115.9L434.35 115.9Z" fill="#00f"/><path d="M440.33 109.5L442.63 113.59L438.03 113.59Z" fill="#00f"/><path d="M444.02 105.6L446.32 109.7L441.72 109.7Z" fill="#00f"/><path d="M447.71 103.2L450.01 107.3L445.41 107.3Z" fill="#00f"/><path d="M451.39 100.4L453.69 104.5L449.09 104.5Z" fill="#00f"/><path d="M455.08 91L457.38 95.09L452.78 95.09Z" fill="#00f"/><path d="M458.76 77.9L461.06 82L456.46 82Z" fill="#00f"/><path d="M462.45 62L464.75 66.09L460.15 66.09Z" fill="#00f"/><path d="M466.14 50L468.44 54.09L463.84 54.09Z" fill="#00f"/><path d="M469.82 38.9L472.12 42.99L467.52 42.99Z" fill="#00f"/><path d="M473.51 29.8L475.81 33.89L471.21 33.89Z" fill="#00f"/><path d="M477.2 28.8L479.5 32.89L474.9 32.89Z" fill="#00f"/><path d="M480.88 28.1L483.18 32.2L478.58 32.2Z" fill="#00f"/><path d="M484.57 31.7L486.87 35.79L482.27 35.79Z" fill="#00f"/><path d="M488.26 34.6L490.56 38.7L485.96 38.7Z" fill="#00f"/><path d="M491.94 45.1L494.24 49.2L489.64 49.2Z" fill="#00f"/><path d="M495.63 50.5L497.93 54.59L493.33 54.59Z" fill="#00f"/><path d="M499.32 57.7L501.62 61.79L497.02 61.79Z" fill="#00f"/><path d="M503 62.7L505.3 66.8L500.7 66.8Z" fill="#00f"/><path d="M506.69 65.6L508.99 69.7L504.39 69.7Z" fill="#00f"/><path d="M510.37 69.5L512.67 73.59L508.07 73.59Z" fill="#00f"/><path d="M514.06 76L516.36 80.09L511.76 80.09Z" fill="#00f"/><path d="M517.75 82.5L520.05 86.59L515.45 86.59Z" fill="#00f"/><path d="M521.43 89.4L523.73 93.5L519.13 93.5Z" fill="#00f"/><path d="M525.12 94.4L527.42 98.5L522.82 98.5Z" fill="#00f"/><path d="M528.81 102.4L531.11 106.5L526.51 106.5Z" fill="#00f"/><path d="M532.49 105.8L534.79 109.9L530.19 109.9Z" fill="#00f"/><path d="M536.18 109.5L538.48 113.59L533.88 113.59Z" fill="#00f"/><path d="M539.87 112.7L542.17 116.8L537.57 116.8Z" fill="#00f"/><path d="M543.55 116.6L545.85 120.7L541.25 120.7Z" fill="#00f"/><path d="M547.24 120.3L549.54 124.4L544.94 124.4Z" fill="#00f"/><path d="M550.92 123.5L553.22 127.59L548.62 127.59Z" fill="#00f"/><path d="M554.61 125.1L556.91 129.19L552.31 129.19Z" fill="#00f"/><path d="M558.3 127.4L560.6 131.5L556 131.5Z" fill="#00f"/><path d="M561.98 129.6L564.28 133.69L559.68 133.69Z" fill="#00f"/><path d="M565.67 131.1L567.97 135.19L563.37 135.19Z" fill="#00f"/><path d="M569.36 133.3L571.66 137.4L567.06 137.4Z" fill="#00f"/>
<path d="M340.8 164.6 L344.49 164.58 L348.17 164.56 L351.86 164.54 L355.55 164.52 L359.23 164.5 L362.92 164.44 L366.6 164.38 L370.29 164.32 L373.98 164.26 L377.66 164.2 L381.35 164.04 L385.04 163.88 L388.72 163.72 L392.41 163.56 L396.1 163.4 L399.78 163.05 L403.47 162.7 L407.16 163.2 L410.84 163.7 L414.53 164.1 L418.21 164.5 L421.9 164.25 L425.59 164 L429.27 163.9 L432.96 163.8 L436.65 163.7 L440.33 163.6 L444.02 163.5 L447.71 163.65 L451.39 163.81 L455.08 163.45 L458.76 163.12 L462.45 162.81 L466.14 162.5 L469.82 162.78 L473.51 163.05 L477.2 163.33 L480.88 163.6 L484.57 164.4 L488.26 165.2 L491.94 165.78 L495.63 166.37 L499.32 166.69 L503 166.75 L506.69 166.81 L510.37 167.21 L514.06 167.44 L517.75 167.17 L521.43 166.72 L525.12 166.28 L528.81 165.84 L532.49 165.4 L536.18 164.5 L539.87 163.72 L543.55 162.78 L547.24 161.12 L550.92 159.38 L554.61 157.7 L558.3 156.1 L561.98 154.5 L565.67 152.9 L569.36 151.2" fill="none" stroke="#000000" stroke-width="0.55"/>
<rect x="339" y="162.8" width="3.6" height="3.6" fill="#000"/><rect x="342.69" y="162.78" width="3.6" height="3.6" fill="#000"/><rect x="346.37" y="162.76" width="3.6" height="3.6" fill="#000"/><rect x="350.06" y="162.74" width="3.6" height="3.6" fill="#000"/><rect x="353.75" y="162.72" width="3.6" height="3.6" fill="#000"/><rect x="357.43" y="162.7" width="3.6" height="3.6" fill="#000"/><rect x="361.12" y="162.64" width="3.6" height="3.6" fill="#000"/><rect x="364.8" y="162.58" width="3.6" height="3.6" fill="#000"/><rect x="368.49" y="162.52" width="3.6" height="3.6" fill="#000"/><rect x="372.18" y="162.46" width="3.6" height="3.6" fill="#000"/><rect x="375.86" y="162.4" width="3.6" height="3.6" fill="#000"/><rect x="379.55" y="162.24" width="3.6" height="3.6" fill="#000"/><rect x="383.24" y="162.08" width="3.6" height="3.6" fill="#000"/><rect x="386.92" y="161.92" width="3.6" height="3.6" fill="#000"/><rect x="390.61" y="161.76" width="3.6" height="3.6" fill="#000"/><rect x="394.3" y="161.6" width="3.6" height="3.6" fill="#000"/><rect x="397.98" y="161.25" width="3.6" height="3.6" fill="#000"/><rect x="401.67" y="160.9" width="3.6" height="3.6" fill="#000"/><rect x="405.36" y="161.4" width="3.6" height="3.6" fill="#000"/><rect x="409.04" y="161.9" width="3.6" height="3.6" fill="#000"/><rect x="412.73" y="162.3" width="3.6" height="3.6" fill="#000"/><rect x="416.41" y="162.7" width="3.6" height="3.6" fill="#000"/><rect x="420.1" y="162.45" width="3.6" height="3.6" fill="#000"/><rect x="423.79" y="162.2" width="3.6" height="3.6" fill="#000"/><rect x="427.47" y="162.1" width="3.6" height="3.6" fill="#000"/><rect x="431.16" y="162" width="3.6" height="3.6" fill="#000"/><rect x="434.85" y="161.9" width="3.6" height="3.6" fill="#000"/><rect x="438.53" y="161.8" width="3.6" height="3.6" fill="#000"/><rect x="442.22" y="161.7" width="3.6" height="3.6" fill="#000"/><rect x="445.91" y="161.85" width="3.6" height="3.6" fill="#000"/><rect x="449.59" y="162.01" width="3.6" height="3.6" fill="#000"/><rect x="453.28" y="161.65" width="3.6" height="3.6" fill="#000"/><rect x="456.96" y="161.32" width="3.6" height="3.6" fill="#000"/><rect x="460.65" y="161.01" width="3.6" height="3.6" fill="#000"/><rect x="464.34" y="160.7" width="3.6" height="3.6" fill="#000"/><rect x="468.02" y="160.97" width="3.6" height="3.6" fill="#000"/><rect x="471.71" y="161.25" width="3.6" height="3.6" fill="#000"/><rect x="475.4" y="161.53" width="3.6" height="3.6" fill="#000"/><rect x="479.08" y="161.8" width="3.6" height="3.6" fill="#000"/><rect x="482.77" y="162.6" width="3.6" height="3.6" fill="#000"/><rect x="486.46" y="163.4" width="3.6" height="3.6" fill="#000"/><rect x="490.14" y="163.98" width="3.6" height="3.6" fill="#000"/><rect x="493.83" y="164.57" width="3.6" height="3.6" fill="#000"/><rect x="497.52" y="164.89" width="3.6" height="3.6" fill="#000"/><rect x="501.2" y="164.95" width="3.6" height="3.6" fill="#000"/><rect x="504.89" y="165.01" width="3.6" height="3.6" fill="#000"/><rect x="508.57" y="165.41" width="3.6" height="3.6" fill="#000"/><rect x="512.26" y="165.64" width="3.6" height="3.6" fill="#000"/><rect x="515.95" y="165.37" width="3.6" height="3.6" fill="#000"/><rect x="519.63" y="164.92" width="3.6" height="3.6" fill="#000"/><rect x="523.32" y="164.48" width="3.6" height="3.6" fill="#000"/><rect x="527.01" y="164.04" width="3.6" height="3.6" fill="#000"/><rect x="530.69" y="163.6" width="3.6" height="3.6" fill="#000"/><rect x="534.38" y="162.7" width="3.6" height="3.6" fill="#000"/><rect x="538.07" y="161.92" width="3.6" height="3.6" fill="#000"/><rect x="541.75" y="160.97" width="3.6" height="3.6" fill="#000"/><rect x="545.44" y="159.32" width="3.6" height="3.6" fill="#000"/><rect x="549.12" y="157.57" width="3.6" height="3.6" fill="#000"/><rect x="552.81" y="155.9" width="3.6" height="3.6" fill="#000"/><rect x="556.5" y="154.3" width="3.6" height="3.6" fill="#000"/><rect x="560.18" y="152.7" width="3.6" height="3.6" fill="#000"/><rect x="563.87" y="151.1" width="3.6" height="3.6" fill="#000"/><rect x="567.56" y="149.4" width="3.6" height="3.6" fill="#000"/>
<path d="M340.8 164.1 L344.49 164.08 L348.17 164.06 L351.86 164.04 L355.55 164.02 L359.23 164 L362.92 163.94 L366.6 163.88 L370.29 163.82 L373.98 163.76 L377.66 163.7 L381.35 163.54 L385.04 163.38 L388.72 163.22 L392.41 163.06 L396.1 162.9 L399.78 162.55 L403.47 162.2 L407.16 162.7 L410.84 163.2 L414.53 163.6 L418.21 164 L421.9 163.75 L425.59 163.5 L429.27 163.4 L432.96 163.3 L436.65 163.2 L440.33 163.1 L444.02 162.74 L447.71 162.37 L451.39 162.01 L455.08 161.65 L458.76 161.32 L462.45 161.01 L466.14 160.7 L469.82 160.97 L473.51 161.25 L477.2 161.53 L480.88 161.8 L484.57 162.6 L488.26 163.4 L491.94 163.98 L495.63 164.57 L499.32 165.15 L503 165.73 L506.69 166.31 L510.37 166.71 L514.06 166.94 L517.75 166.67 L521.43 166.22 L525.12 165.78 L528.81 165.34 L532.49 164.9 L536.18 163.7 L539.87 162.32 L543.55 160.78 L547.24 159.12 L550.92 157.38 L554.61 155.7 L558.3 154.1 L561.98 152.5 L565.67 150.9 L569.36 149.2" fill="none" stroke="#ff0000" stroke-width="0.55"/>
<circle cx="340.8" cy="164.1" r="2.1" fill="#f00"/><circle cx="344.49" cy="164.08" r="2.1" fill="#f00"/><circle cx="348.17" cy="164.06" r="2.1" fill="#f00"/><circle cx="351.86" cy="164.04" r="2.1" fill="#f00"/><circle cx="355.55" cy="164.02" r="2.1" fill="#f00"/><circle cx="359.23" cy="164" r="2.1" fill="#f00"/><circle cx="362.92" cy="163.94" r="2.1" fill="#f00"/><circle cx="366.6" cy="163.88" r="2.1" fill="#f00"/><circle cx="370.29" cy="163.82" r="2.1" fill="#f00"/><circle cx="373.98" cy="163.76" r="2.1" fill="#f00"/><circle cx="377.66" cy="163.7" r="2.1" fill="#f00"/><circle cx="381.35" cy="163.54" r="2.1" fill="#f00"/><circle cx="385.04" cy="163.38" r="2.1" fill="#f00"/><circle cx="388.72" cy="163.22" r="2.1" fill="#f00"/><circle cx="392.41" cy="163.06" r="2.1" fill="#f00"/><circle cx="396.1" cy="162.9" r="2.1" fill="#f00"/><circle cx="399.78" cy="162.55" r="2.1" fill="#f00"/><circle cx="403.47" cy="162.2" r="2.1" fill="#f00"/><circle cx="407.16" cy="162.7" r="2.1" fill="#f00"/><circle cx="410.84" cy="163.2" r="2.1" fill="#f00"/><circle cx="414.53" cy="163.6" r="2.1" fill="#f00"/><circle cx="418.21" cy="164" r="2.1" fill="#f00"/><circle cx="421.9" cy="163.75" r="2.1" fill="#f00"/><circle cx="425.59" cy="163.5" r="2.1" fill="#f00"/><circle cx="429.27" cy="163.4" r="2.1" fill="#f00"/><circle cx="432.96" cy="163.3" r="2.1" fill="#f00"/><circle cx="436.65" cy="163.2" r="2.1" fill="#f00"/><circle cx="440.33" cy="163.1" r="2.1" fill="#f00"/><circle cx="444.02" cy="162.74" r="2.1" fill="#f00"/><circle cx="447.71" cy="162.37" r="2.1" fill="#f00"/><circle cx="451.39" cy="162.01" r="2.1" fill="#f00"/><circle cx="455.08" cy="161.65" r="2.1" fill="#f00"/><circle cx="458.76" cy="161.32" r="2.1" fill="#f00"/><circle cx="462.45" cy="161.01" r="2.1" fill="#f00"/><circle cx="466.14" cy="160.7" r="2.1" fill="#f00"/><circle cx="469.82" cy="160.97" r="2.1" fill="#f00"/><circle cx="473.51" cy="161.25" r="2.1" fill="#f00"/><circle cx="477.2" cy="161.53" r="2.1" fill="#f00"/><circle cx="480.88" cy="161.8" r="2.1" fill="#f00"/><circle cx="484.57" cy="162.6" r="2.1" fill="#f00"/><circle cx="488.26" cy="163.4" r="2.1" fill="#f00"/><circle cx="491.94" cy="163.98" r="2.1" fill="#f00"/><circle cx="495.63" cy="164.57" r="2.1" fill="#f00"/><circle cx="499.32" cy="165.15" r="2.1" fill="#f00"/><circle cx="503" cy="165.73" r="2.1" fill="#f00"/><circle cx="506.69" cy="166.31" r="2.1" fill="#f00"/><circle cx="510.37" cy="166.71" r="2.1" fill="#f00"/><circle cx="514.06" cy="166.94" r="2.1" fill="#f00"/><circle cx="517.75" cy="166.67" r="2.1" fill="#f00"/><circle cx="521.43" cy="166.22" r="2.1" fill="#f00"/><circle cx="525.12" cy="165.78" r="2.1" fill="#f00"/><circle cx="528.81" cy="165.34" r="2.1" fill="#f00"/><circle cx="532.49" cy="164.9" r="2.1" fill="#f00"/><circle cx="536.18" cy="163.7" r="2.1" fill="#f00"/><circle cx="539.87" cy="162.32" r="2.1" fill="#f00"/><circle cx="543.55" cy="160.78" r="2.1" fill="#f00"/><circle cx="547.24" cy="159.12" r="2.1" fill="#f00"/><circle cx="550.92" cy="157.38" r="2.1" fill="#f00"/><circle cx="554.61" cy="155.7" r="2.1" fill="#f00"/><circle cx="558.3" cy="154.1" r="2.1" fill="#f00"/><circle cx="561.98" cy="152.5" r="2.1" fill="#f00"/><circle cx="565.67" cy="150.9" r="2.1" fill="#f00"/><circle cx="569.36" cy="149.2" r="2.1" fill="#f00"/>
<path d="M340.8 156 L344.49 155.9 L348.17 155.8 L351.86 155.7 L355.55 157.19 L359.23 158.37 L362.92 158.66 L366.6 158.95 L370.29 158.7 L373.98 157.9 L377.66 157.1 L381.35 156.26 L385.04 155.43 L388.72 154.69 L392.41 154.24 L396.1 153.8 L399.78 154.35 L403.47 154.89 L407.16 155.43 L410.84 155.95 L414.53 156.46 L418.21 156.8 L421.9 156.8 L425.59 156.8 L429.27 156.28 L432.96 155.75 L436.65 155.22 L440.33 154.7 L444.02 153.81 L447.71 152.93 L451.39 152.04 L455.08 151.15 L458.76 150.35 L462.45 149.6 L466.14 148.84 L469.82 148.09 L473.51 147.73 L477.2 148.1 L480.88 148.62 L484.57 149.71 L488.26 150.8 L491.94 152.1 L495.63 153.4 L499.32 154.7 L503 155.66 L506.69 156.62 L510.37 157.6 L514.06 158.6 L517.75 159.6 L521.43 159.2 L525.12 158.8 L528.81 158.36 L532.49 157.92 L536.18 157.22 L539.87 156.26 L543.55 155.3 L547.24 153.88 L550.92 152.46 L554.61 151.11 L558.3 149.79 L561.98 148.38 L565.67 146.9 L569.36 144.5" fill="none" stroke="#0000ff" stroke-width="0.55"/>
<path d="M340.8 153.9L343.1 158L338.5 158Z" fill="#00f"/><path d="M344.49 153.8L346.79 157.9L342.19 157.9Z" fill="#00f"/><path d="M348.17 153.7L350.47 157.79L345.87 157.79Z" fill="#00f"/><path d="M351.86 153.6L354.16 157.69L349.56 157.69Z" fill="#00f"/><path d="M355.55 155.09L357.85 159.18L353.25 159.18Z" fill="#00f"/><path d="M359.23 156.27L361.53 160.37L356.93 160.37Z" fill="#00f"/><path d="M362.92 156.56L365.22 160.66L360.62 160.66Z" fill="#00f"/><path d="M366.6 156.85L368.9 160.95L364.3 160.95Z" fill="#00f"/><path d="M370.29 156.6L372.59 160.69L367.99 160.69Z" fill="#00f"/><path d="M373.98 155.8L376.28 159.9L371.68 159.9Z" fill="#00f"/><path d="M377.66 155L379.96 159.09L375.36 159.09Z" fill="#00f"/><path d="M381.35 154.16L383.65 158.26L379.05 158.26Z" fill="#00f"/><path d="M385.04 153.33L387.34 157.42L382.74 157.42Z" fill="#00f"/><path d="M388.72 152.59L391.02 156.68L386.42 156.68Z" fill="#00f"/><path d="M392.41 152.14L394.71 156.24L390.11 156.24Z" fill="#00f"/><path d="M396.1 151.7L398.4 155.8L393.8 155.8Z" fill="#00f"/><path d="M399.78 152.25L402.08 156.34L397.48 156.34Z" fill="#00f"/><path d="M403.47 152.79L405.77 156.89L401.17 156.89Z" fill="#00f"/><path d="M407.16 153.33L409.46 157.42L404.86 157.42Z" fill="#00f"/><path d="M410.84 153.85L413.14 157.94L408.54 157.94Z" fill="#00f"/><path d="M414.53 154.36L416.83 158.46L412.23 158.46Z" fill="#00f"/><path d="M418.21 154.7L420.51 158.8L415.91 158.8Z" fill="#00f"/><path d="M421.9 154.7L424.2 158.8L419.6 158.8Z" fill="#00f"/><path d="M425.59 154.7L427.89 158.8L423.29 158.8Z" fill="#00f"/><path d="M429.27 154.18L431.57 158.27L426.97 158.27Z" fill="#00f"/><path d="M432.96 153.65L435.26 157.75L430.66 157.75Z" fill="#00f"/><path d="M436.65 153.12L438.95 157.22L434.35 157.22Z" fill="#00f"/><path d="M440.33 152.6L442.63 156.69L438.03 156.69Z" fill="#00f"/><path d="M444.02 151.71L446.32 155.81L441.72 155.81Z" fill="#00f"/><path d="M447.71 150.83L450.01 154.92L445.41 154.92Z" fill="#00f"/><path d="M451.39 149.94L453.69 154.04L449.09 154.04Z" fill="#00f"/><path d="M455.08 149.05L457.38 153.15L452.78 153.15Z" fill="#00f"/><path d="M458.76 148.25L461.06 152.34L456.46 152.34Z" fill="#00f"/><path d="M462.45 147.5L464.75 151.59L460.15 151.59Z" fill="#00f"/><path d="M466.14 146.74L468.44 150.84L463.84 150.84Z" fill="#00f"/><path d="M469.82 145.99L472.12 150.08L467.52 150.08Z" fill="#00f"/><path d="M473.51 145.63L475.81 149.73L471.21 149.73Z" fill="#00f"/><path d="M477.2 146L479.5 150.1L474.9 150.1Z" fill="#00f"/><path d="M480.88 146.52L483.18 150.61L478.58 150.61Z" fill="#00f"/><path d="M484.57 147.61L486.87 151.7L482.27 151.7Z" fill="#00f"/><path d="M488.26 148.7L490.56 152.8L485.96 152.8Z" fill="#00f"/><path d="M491.94 150L494.24 154.09L489.64 154.09Z" fill="#00f"/><path d="M495.63 151.3L497.93 155.4L493.33 155.4Z" fill="#00f"/><path d="M499.32 152.6L501.62 156.69L497.02 156.69Z" fill="#00f"/><path d="M503 153.56L505.3 157.66L500.7 157.66Z" fill="#00f"/><path d="M506.69 154.52L508.99 158.62L504.39 158.62Z" fill="#00f"/><path d="M510.37 155.5L512.67 159.59L508.07 159.59Z" fill="#00f"/><path d="M514.06 156.5L516.36 160.59L511.76 160.59Z" fill="#00f"/><path d="M517.75 157.5L520.05 161.59L515.45 161.59Z" fill="#00f"/><path d="M521.43 157.1L523.73 161.19L519.13 161.19Z" fill="#00f"/><path d="M525.12 156.7L527.42 160.8L522.82 160.8Z" fill="#00f"/><path d="M528.81 156.26L531.11 160.36L526.51 160.36Z" fill="#00f"/><path d="M532.49 155.82L534.79 159.91L530.19 159.91Z" fill="#00f"/><path d="M536.18 155.12L538.48 159.22L533.88 159.22Z" fill="#00f"/><path d="M539.87 154.16L542.17 158.25L537.57 158.25Z" fill="#00f"/><path d="M543.55 153.2L545.85 157.3L541.25 157.3Z" fill="#00f"/><path d="M547.24 151.78L549.54 155.87L544.94 155.87Z" fill="#00f"/><path d="M550.92 150.36L553.22 154.45L548.62 154.45Z" fill="#00f"/><path d="M554.61 149.01L556.91 153.11L552.31 153.11Z" fill="#00f"/><path d="M558.3 147.69L560.6 151.79L556 151.79Z" fill="#00f"/><path d="M561.98 146.28L564.28 150.38L559.68 150.38Z" fill="#00f"/><path d="M565.67 144.8L567.97 148.9L563.37 148.9Z" fill="#00f"/><path d="M569.36 142.4L571.66 146.5L567.06 146.5Z" fill="#00f"/>
</g>
<rect x="340.8" y="5.3" width="230.4" height="166.9" fill="none" stroke="#404040" stroke-width="1.25"/>
<line x1="340.8" y1="172.2" x2="340.8" y2="170.2" stroke="#404040" stroke-width="0.9"/>
<line x1="350.02" y1="172.2" x2="350.02" y2="168.6" stroke="#404040" stroke-width="0.9"/>
<text x="350.02" y="184.3" font-size="9.22" text-anchor="middle" textLength="9.67" lengthAdjust="spacingAndGlyphs">30</text>
<line x1="359.23" y1="172.2" x2="359.23" y2="170.2" stroke="#404040" stroke-width="0.9"/>
<line x1="368.45" y1="172.2" x2="368.45" y2="168.6" stroke="#404040" stroke-width="0.9"/>
<text x="368.45" y="184.3" font-size="9.22" text-anchor="middle" textLength="9.67" lengthAdjust="spacingAndGlyphs">40</text>
<line x1="377.66" y1="172.2" x2="377.66" y2="170.2" stroke="#404040" stroke-width="0.9"/>
<line x1="386.88" y1="172.2" x2="386.88" y2="168.6" stroke="#404040" stroke-width="0.9"/>
<text x="386.88" y="184.3" font-size="9.22" text-anchor="middle" textLength="9.67" lengthAdjust="spacingAndGlyphs">50</text>
<line x1="396.1" y1="172.2" x2="396.1" y2="170.2" stroke="#404040" stroke-width="0.9"/>
<line x1="405.31" y1="172.2" x2="405.31" y2="168.6" stroke="#404040" stroke-width="0.9"/>
<text x="405.31" y="184.3" font-size="9.22" text-anchor="middle" textLength="9.67" lengthAdjust="spacingAndGlyphs">60</text>
<line x1="414.53" y1="172.2" x2="414.53" y2="170.2" stroke="#404040" stroke-width="0.9"/>
<line x1="423.74" y1="172.2" x2="423.74" y2="168.6" stroke="#404040" stroke-width="0.9"/>
<text x="423.74" y="184.3" font-size="9.22" text-anchor="middle" textLength="9.67" lengthAdjust="spacingAndGlyphs">70</text>
<line x1="432.96" y1="172.2" x2="432.96" y2="170.2" stroke="#404040" stroke-width="0.9"/>
<line x1="442.18" y1="172.2" x2="442.18" y2="168.6" stroke="#404040" stroke-width="0.9"/>
<text x="442.18" y="184.3" font-size="9.22" text-anchor="middle" textLength="9.67" lengthAdjust="spacingAndGlyphs">80</text>
<line x1="451.39" y1="172.2" x2="451.39" y2="170.2" stroke="#404040" stroke-width="0.9"/>
<line x1="460.61" y1="172.2" x2="460.61" y2="168.6" stroke="#404040" stroke-width="0.9"/>
<text x="460.61" y="184.3" font-size="9.22" text-anchor="middle" textLength="9.67" lengthAdjust="spacingAndGlyphs">90</text>
<line x1="469.82" y1="172.2" x2="469.82" y2="170.2" stroke="#404040" stroke-width="0.9"/>
<line x1="479.04" y1="172.2" x2="479.04" y2="168.6" stroke="#404040" stroke-width="0.9"/>
<text x="479.04" y="184.3" font-size="9.22" text-anchor="middle" textLength="14.51" lengthAdjust="spacingAndGlyphs">100</text>
<line x1="488.26" y1="172.2" x2="488.26" y2="170.2" stroke="#404040" stroke-width="0.9"/>
<line x1="497.47" y1="172.2" x2="497.47" y2="168.6" stroke="#404040" stroke-width="0.9"/>
<text x="497.47" y="184.3" font-size="9.22" text-anchor="middle" textLength="14.51" lengthAdjust="spacingAndGlyphs">110</text>
<line x1="506.69" y1="172.2" x2="506.69" y2="170.2" stroke="#404040" stroke-width="0.9"/>
<line x1="515.9" y1="172.2" x2="515.9" y2="168.6" stroke="#404040" stroke-width="0.9"/>
<text x="515.9" y="184.3" font-size="9.22" text-anchor="middle" textLength="14.51" lengthAdjust="spacingAndGlyphs">120</text>
<line x1="525.12" y1="172.2" x2="525.12" y2="170.2" stroke="#404040" stroke-width="0.9"/>
<line x1="534.34" y1="172.2" x2="534.34" y2="168.6" stroke="#404040" stroke-width="0.9"/>
<text x="534.34" y="184.3" font-size="9.22" text-anchor="middle" textLength="14.51" lengthAdjust="spacingAndGlyphs">130</text>
<line x1="543.55" y1="172.2" x2="543.55" y2="170.2" stroke="#404040" stroke-width="0.9"/>
<line x1="552.77" y1="172.2" x2="552.77" y2="168.6" stroke="#404040" stroke-width="0.9"/>
<text x="552.77" y="184.3" font-size="9.22" text-anchor="middle" textLength="14.51" lengthAdjust="spacingAndGlyphs">140</text>
<line x1="561.98" y1="172.2" x2="561.98" y2="170.2" stroke="#404040" stroke-width="0.9"/>
<line x1="571.2" y1="172.2" x2="571.2" y2="168.6" stroke="#404040" stroke-width="0.9"/>
<text x="571.2" y="184.3" font-size="9.22" text-anchor="middle" textLength="14.51" lengthAdjust="spacingAndGlyphs">150</text>
<line x1="340.8" y1="172.2" x2="344.6" y2="172.2" stroke="#404040" stroke-width="0.9"/>
<text x="335.7" y="174.35" font-size="7.95" text-anchor="end" textLength="4.17" lengthAdjust="spacingAndGlyphs">0</text>
<line x1="340.8" y1="163.85" x2="343" y2="163.85" stroke="#404040" stroke-width="0.9"/>
<line x1="340.8" y1="155.51" x2="344.6" y2="155.51" stroke="#404040" stroke-width="0.9"/>
<text x="335.7" y="157.66" font-size="7.95" text-anchor="end" textLength="16.68" lengthAdjust="spacingAndGlyphs">1000</text>
<line x1="340.8" y1="147.16" x2="343" y2="147.16" stroke="#404040" stroke-width="0.9"/>
<line x1="340.8" y1="138.82" x2="344.6" y2="138.82" stroke="#404040" stroke-width="0.9"/>
<text x="335.7" y="140.97" font-size="7.95" text-anchor="end" textLength="16.68" lengthAdjust="spacingAndGlyphs">2000</text>
<line x1="340.8" y1="130.47" x2="343" y2="130.47" stroke="#404040" stroke-width="0.9"/>
<line x1="340.8" y1="122.13" x2="344.6" y2="122.13" stroke="#404040" stroke-width="0.9"/>
<text x="335.7" y="124.28" font-size="7.95" text-anchor="end" textLength="16.68" lengthAdjust="spacingAndGlyphs">3000</text>
<line x1="340.8" y1="113.78" x2="343" y2="113.78" stroke="#404040" stroke-width="0.9"/>
<line x1="340.8" y1="105.44" x2="344.6" y2="105.44" stroke="#404040" stroke-width="0.9"/>
<text x="335.7" y="107.59" font-size="7.95" text-anchor="end" textLength="16.68" lengthAdjust="spacingAndGlyphs">4000</text>
<line x1="340.8" y1="97.09" x2="343" y2="97.09" stroke="#404040" stroke-width="0.9"/>
<line x1="340.8" y1="88.75" x2="344.6" y2="88.75" stroke="#404040" stroke-width="0.9"/>
<text x="335.7" y="90.9" font-size="7.95" text-anchor="end" textLength="16.68" lengthAdjust="spacingAndGlyphs">5000</text>
<line x1="340.8" y1="80.4" x2="343" y2="80.4" stroke="#404040" stroke-width="0.9"/>
<line x1="340.8" y1="72.06" x2="344.6" y2="72.06" stroke="#404040" stroke-width="0.9"/>
<text x="335.7" y="74.21" font-size="7.95" text-anchor="end" textLength="16.68" lengthAdjust="spacingAndGlyphs">6000</text>
<line x1="340.8" y1="63.71" x2="343" y2="63.71" stroke="#404040" stroke-width="0.9"/>
<line x1="340.8" y1="55.37" x2="344.6" y2="55.37" stroke="#404040" stroke-width="0.9"/>
<text x="335.7" y="57.52" font-size="7.95" text-anchor="end" textLength="16.68" lengthAdjust="spacingAndGlyphs">7000</text>
<line x1="340.8" y1="47.02" x2="343" y2="47.02" stroke="#404040" stroke-width="0.9"/>
<line x1="340.8" y1="38.68" x2="344.6" y2="38.68" stroke="#404040" stroke-width="0.9"/>
<text x="335.7" y="40.83" font-size="7.95" text-anchor="end" textLength="16.68" lengthAdjust="spacingAndGlyphs">8000</text>
<line x1="340.8" y1="30.33" x2="343" y2="30.33" stroke="#404040" stroke-width="0.9"/>
<line x1="340.8" y1="21.99" x2="344.6" y2="21.99" stroke="#404040" stroke-width="0.9"/>
<text x="335.7" y="24.14" font-size="7.95" text-anchor="end" textLength="16.68" lengthAdjust="spacingAndGlyphs">9000</text>
<line x1="340.8" y1="13.64" x2="343" y2="13.64" stroke="#404040" stroke-width="0.9"/>
<line x1="340.8" y1="5.3" x2="344.6" y2="5.3" stroke="#404040" stroke-width="0.9"/>
<text x="335.7" y="7.45" font-size="7.95" text-anchor="end" textLength="20.85" lengthAdjust="spacingAndGlyphs">10000</text>
<line x1="571.2" y1="172.2" x2="567.4" y2="172.2" stroke="#404040" stroke-width="0.9"/>
<text x="576" y="174.62" font-size="8.06" textLength="14.79" lengthAdjust="spacingAndGlyphs">0.00</text>
<line x1="571.2" y1="163.85" x2="569" y2="163.85" stroke="#404040" stroke-width="0.9"/>
<line x1="571.2" y1="155.51" x2="567.4" y2="155.51" stroke="#404040" stroke-width="0.9"/>
<text x="576" y="157.93" font-size="8.06" textLength="14.79" lengthAdjust="spacingAndGlyphs">0.04</text>
<line x1="571.2" y1="147.16" x2="569" y2="147.16" stroke="#404040" stroke-width="0.9"/>
<line x1="571.2" y1="138.82" x2="567.4" y2="138.82" stroke="#404040" stroke-width="0.9"/>
<text x="576" y="141.24" font-size="8.06" textLength="14.79" lengthAdjust="spacingAndGlyphs">0.08</text>
<line x1="571.2" y1="130.47" x2="569" y2="130.47" stroke="#404040" stroke-width="0.9"/>
<line x1="571.2" y1="122.13" x2="567.4" y2="122.13" stroke="#404040" stroke-width="0.9"/>
<text x="576" y="124.55" font-size="8.06" textLength="14.79" lengthAdjust="spacingAndGlyphs">0.12</text>
<line x1="571.2" y1="113.78" x2="569" y2="113.78" stroke="#404040" stroke-width="0.9"/>
<line x1="571.2" y1="105.44" x2="567.4" y2="105.44" stroke="#404040" stroke-width="0.9"/>
<text x="576" y="107.86" font-size="8.06" textLength="14.79" lengthAdjust="spacingAndGlyphs">0.16</text>
<line x1="571.2" y1="97.09" x2="569" y2="97.09" stroke="#404040" stroke-width="0.9"/>
<line x1="571.2" y1="88.75" x2="567.4" y2="88.75" stroke="#404040" stroke-width="0.9"/>
<text x="576" y="91.17" font-size="8.06" textLength="14.79" lengthAdjust="spacingAndGlyphs">0.20</text>
<line x1="571.2" y1="80.4" x2="569" y2="80.4" stroke="#404040" stroke-width="0.9"/>
<line x1="571.2" y1="72.06" x2="567.4" y2="72.06" stroke="#404040" stroke-width="0.9"/>
<text x="576" y="74.48" font-size="8.06" textLength="14.79" lengthAdjust="spacingAndGlyphs">0.24</text>
<line x1="571.2" y1="63.71" x2="569" y2="63.71" stroke="#404040" stroke-width="0.9"/>
<line x1="571.2" y1="55.37" x2="567.4" y2="55.37" stroke="#404040" stroke-width="0.9"/>
<text x="576" y="57.79" font-size="8.06" textLength="14.79" lengthAdjust="spacingAndGlyphs">0.28</text>
<line x1="571.2" y1="47.02" x2="569" y2="47.02" stroke="#404040" stroke-width="0.9"/>
<line x1="571.2" y1="38.68" x2="567.4" y2="38.68" stroke="#404040" stroke-width="0.9"/>
<text x="576" y="41.1" font-size="8.06" textLength="14.79" lengthAdjust="spacingAndGlyphs">0.32</text>
<line x1="571.2" y1="30.33" x2="569" y2="30.33" stroke="#404040" stroke-width="0.9"/>
<line x1="571.2" y1="21.99" x2="567.4" y2="21.99" stroke="#404040" stroke-width="0.9"/>
<text x="576" y="24.41" font-size="8.06" textLength="14.79" lengthAdjust="spacingAndGlyphs">0.36</text>
<line x1="571.2" y1="13.64" x2="569" y2="13.64" stroke="#404040" stroke-width="0.9"/>
<line x1="571.2" y1="5.3" x2="567.4" y2="5.3" stroke="#404040" stroke-width="0.9"/>
<text x="576" y="7.72" font-size="8.06" textLength="14.79" lengthAdjust="spacingAndGlyphs">0.40</text>
<rect x="353.5" y="42.2" width="52.2" height="39.3" fill="#fff" stroke="#999" stroke-width="0.8"/>
<line x1="355.2" y1="49.3" x2="378.6" y2="49.3" stroke="#999" stroke-width="0.8"/>
<rect x="365.09" y="47.59" width="3.42" height="3.42" fill="#000"/>
<text x="381.8" y="52.9" font-size="10">1k</text>
<line x1="355.2" y1="62.2" x2="378.6" y2="62.2" stroke="#ff8080" stroke-width="0.8"/>
<circle cx="366.8" cy="62.2" r="1.99" fill="#f00"/>
<text x="381.8" y="65.8" font-size="10">10k</text>
<line x1="355.2" y1="75.1" x2="378.6" y2="75.1" stroke="#8080ff" stroke-width="0.8"/>
<path d="M366.8 73.1L368.99 77L364.62 77Z" fill="#00f"/>
<text x="381.8" y="78.7" font-size="10">100k</text>
<text x="353.5" y="19.1" font-size="12.3">(b)</text>
<line x1="373.3" y1="91.7" x2="453.8" y2="91.7" stroke="#8c8c8c" stroke-width="1.0"/>
<path d="M373.3 91.7L378.3 90.55L378.3 92.85Z" fill="#000"/>
<line x1="494.4" y1="151.7" x2="531.5" y2="151.7" stroke="#8c8c8c" stroke-width="1.0"/>
<path d="M531.5 151.7L526.5 150.55L526.5 152.85Z" fill="#000"/>
<g transform="translate(305.4 103) rotate(-90)"><text x="0" y="0" font-size="12" font-family="'Liberation Serif', serif" font-weight="normal">&#949;<tspan font-family="'Liberation Sans', sans-serif" font-weight="bold" font-size="7.68" dx="0.2" dy="3.9">r</tspan></text></g>
<g transform="translate(601.5 83.6) rotate(-90)"><text x="0" y="0" font-size="10" text-anchor="middle">tan&#948;</text></g>
<text x="429" y="202.6" font-size="10.35">Temp.<tspan dx="4.66">(</tspan><tspan font-size="5.38" font-weight="normal" dx="0.52" dy="-2.79">o</tspan><tspan dx="0.93" dy="2.79">C</tspan><tspan dx="0.62">)</tspan></text>
<g clip-path="url(#cc)">
<path d="M41.1 353.6 L44.85 353.49 L48.59 353.38 L52.34 353.27 L56.08 353.03 L59.83 352.55 L63.57 352.07 L67.32 351.58 L71.06 351.1 L74.81 350.37 L78.56 349.63 L82.3 348.9 L86.05 347.1 L89.79 342.77 L93.54 341.1 L97.28 340 L101.03 338.9 L104.78 337.8 L108.52 337 L112.27 336.21 L116.01 335.41 L119.76 334.62 L123.5 333.64 L127.25 332.42 L130.99 331.5 L134.74 330.3 L138.49 329.3 L142.23 327.9 L145.98 326 L149.72 323.1 L153.47 319.7 L157.21 316.13 L160.96 306 L164.7 295.6 L168.45 281.3 L172.2 267.4 L175.94 240.2 L179.69 233.1 L183.43 230.4 L187.18 230.9 L190.92 231.8 L194.67 236 L198.42 242.7 L202.16 255.3 L205.91 259 L209.65 267.9 L213.4 275.8 L217.14 280.2 L220.89 290.4 L224.63 300 L228.38 306.9 L232.13 313.4 L235.87 318.8 L239.62 323.3 L243.36 327.7 L247.11 330.5 L250.85 334 L254.6 336.9 L258.34 339.6 L262.09 342.5 L265.84 345.3 L269.58 347.9 L273.33 350.2" fill="none" stroke="#000000" stroke-width="0.55"/>
<rect x="39.3" y="351.8" width="3.6" height="3.6" fill="#000"/><rect x="43.05" y="351.69" width="3.6" height="3.6" fill="#000"/><rect x="46.79" y="351.58" width="3.6" height="3.6" fill="#000"/><rect x="50.54" y="351.47" width="3.6" height="3.6" fill="#000"/><rect x="54.28" y="351.23" width="3.6" height="3.6" fill="#000"/><rect x="58.03" y="350.75" width="3.6" height="3.6" fill="#000"/><rect x="61.77" y="350.27" width="3.6" height="3.6" fill="#000"/><rect x="65.52" y="349.78" width="3.6" height="3.6" fill="#000"/><rect x="69.26" y="349.3" width="3.6" height="3.6" fill="#000"/><rect x="73.01" y="348.57" width="3.6" height="3.6" fill="#000"/><rect x="76.76" y="347.83" width="3.6" height="3.6" fill="#000"/><rect x="80.5" y="347.1" width="3.6" height="3.6" fill="#000"/><rect x="84.25" y="345.3" width="3.6" height="3.6" fill="#000"/><rect x="87.99" y="340.97" width="3.6" height="3.6" fill="#000"/><rect x="91.74" y="339.3" width="3.6" height="3.6" fill="#000"/><rect x="95.48" y="338.2" width="3.6" height="3.6" fill="#000"/><rect x="99.23" y="337.1" width="3.6" height="3.6" fill="#000"/><rect x="102.98" y="336" width="3.6" height="3.6" fill="#000"/><rect x="106.72" y="335.2" width="3.6" height="3.6" fill="#000"/><rect x="110.47" y="334.41" width="3.6" height="3.6" fill="#000"/><rect x="114.21" y="333.61" width="3.6" height="3.6" fill="#000"/><rect x="117.96" y="332.82" width="3.6" height="3.6" fill="#000"/><rect x="121.7" y="331.84" width="3.6" height="3.6" fill="#000"/><rect x="125.45" y="330.62" width="3.6" height="3.6" fill="#000"/><rect x="129.19" y="329.7" width="3.6" height="3.6" fill="#000"/><rect x="132.94" y="328.5" width="3.6" height="3.6" fill="#000"/><rect x="136.69" y="327.5" width="3.6" height="3.6" fill="#000"/><rect x="140.43" y="326.1" width="3.6" height="3.6" fill="#000"/><rect x="144.18" y="324.2" width="3.6" height="3.6" fill="#000"/><rect x="147.92" y="321.3" width="3.6" height="3.6" fill="#000"/><rect x="151.67" y="317.9" width="3.6" height="3.6" fill="#000"/><rect x="155.41" y="314.33" width="3.6" height="3.6" fill="#000"/><rect x="159.16" y="304.2" width="3.6" height="3.6" fill="#000"/><rect x="162.9" y="293.8" width="3.6" height="3.6" fill="#000"/><rect x="166.65" y="279.5" width="3.6" height="3.6" fill="#000"/><rect x="170.4" y="265.6" width="3.6" height="3.6" fill="#000"/><rect x="174.14" y="238.4" width="3.6" height="3.6" fill="#000"/><rect x="177.89" y="231.3" width="3.6" height="3.6" fill="#000"/><rect x="181.63" y="228.6" width="3.6" height="3.6" fill="#000"/><rect x="185.38" y="229.1" width="3.6" height="3.6" fill="#000"/><rect x="189.12" y="230" width="3.6" height="3.6" fill="#000"/><rect x="192.87" y="234.2" width="3.6" height="3.6" fill="#000"/><rect x="196.62" y="240.9" width="3.6" height="3.6" fill="#000"/><rect x="200.36" y="253.5" width="3.6" height="3.6" fill="#000"/><rect x="204.11" y="257.2" width="3.6" height="3.6" fill="#000"/><rect x="207.85" y="266.1" width="3.6" height="3.6" fill="#000"/><rect x="211.6" y="274" width="3.6" height="3.6" fill="#000"/><rect x="215.34" y="278.4" width="3.6" height="3.6" fill="#000"/><rect x="219.09" y="288.6" width="3.6" height="3.6" fill="#000"/><rect x="222.83" y="298.2" width="3.6" height="3.6" fill="#000"/><rect x="226.58" y="305.1" width="3.6" height="3.6" fill="#000"/><rect x="230.33" y="311.6" width="3.6" height="3.6" fill="#000"/><rect x="234.07" y="317" width="3.6" height="3.6" fill="#000"/><rect x="237.82" y="321.5" width="3.6" height="3.6" fill="#000"/><rect x="241.56" y="325.9" width="3.6" height="3.6" fill="#000"/><rect x="245.31" y="328.7" width="3.6" height="3.6" fill="#000"/><rect x="249.05" y="332.2" width="3.6" height="3.6" fill="#000"/><rect x="252.8" y="335.1" width="3.6" height="3.6" fill="#000"/><rect x="256.54" y="337.8" width="3.6" height="3.6" fill="#000"/><rect x="260.29" y="340.7" width="3.6" height="3.6" fill="#000"/><rect x="264.04" y="343.5" width="3.6" height="3.6" fill="#000"/><rect x="267.78" y="346.1" width="3.6" height="3.6" fill="#000"/><rect x="271.53" y="348.4" width="3.6" height="3.6" fill="#000"/>
<path d="M41.1 354.95 L44.85 354.77 L48.59 354.59 L52.34 354.4 L56.08 354.16 L59.83 353.8 L63.57 353.44 L67.32 353.07 L71.06 352.71 L74.81 351.95 L78.56 351.19 L82.3 350.42 L86.05 348.88 L89.79 345.24 L93.54 343.71 L97.28 342.45 L101.03 341.19 L104.78 339.93 L108.52 339.1 L112.27 338.27 L116.01 337.44 L119.76 336.62 L123.5 335.6 L127.25 334.31 L130.99 333.27 L134.74 332.17 L138.49 330.91 L142.23 329.3 L145.98 327.61 L149.72 324.97 L153.47 321.83 L157.21 318.33 L160.96 308.6 L164.7 298.36 L168.45 284.21 L172.2 270.88 L175.94 244.98 L179.69 238.51 L183.43 235.29 L187.18 235.89 L190.92 236.84 L194.67 240.78 L198.42 247.33 L202.16 259.25 L205.91 262.48 L209.65 271.12 L213.4 278.71 L217.14 283.06 L220.89 291.34 L224.63 300.94 L228.38 307.78 L232.13 314.28 L235.87 319.68 L239.62 324.18 L243.36 328.58 L247.11 331.38 L250.85 334.88 L254.6 337.78 L258.34 340.48 L262.09 343.38 L265.84 346.18 L269.58 348.73 L273.33 351.03" fill="none" stroke="#ff0000" stroke-width="0.55"/>
<circle cx="41.1" cy="354.95" r="2.1" fill="#f00"/><circle cx="44.85" cy="354.77" r="2.1" fill="#f00"/><circle cx="48.59" cy="354.59" r="2.1" fill="#f00"/><circle cx="52.34" cy="354.4" r="2.1" fill="#f00"/><circle cx="56.08" cy="354.16" r="2.1" fill="#f00"/><circle cx="59.83" cy="353.8" r="2.1" fill="#f00"/><circle cx="63.57" cy="353.44" r="2.1" fill="#f00"/><circle cx="67.32" cy="353.07" r="2.1" fill="#f00"/><circle cx="71.06" cy="352.71" r="2.1" fill="#f00"/><circle cx="74.81" cy="351.95" r="2.1" fill="#f00"/><circle cx="78.56" cy="351.19" r="2.1" fill="#f00"/><circle cx="82.3" cy="350.42" r="2.1" fill="#f00"/><circle cx="86.05" cy="348.88" r="2.1" fill="#f00"/><circle cx="89.79" cy="345.24" r="2.1" fill="#f00"/><circle cx="93.54" cy="343.71" r="2.1" fill="#f00"/><circle cx="97.28" cy="342.45" r="2.1" fill="#f00"/><circle cx="101.03" cy="341.19" r="2.1" fill="#f00"/><circle cx="104.78" cy="339.93" r="2.1" fill="#f00"/><circle cx="108.52" cy="339.1" r="2.1" fill="#f00"/><circle cx="112.27" cy="338.27" r="2.1" fill="#f00"/><circle cx="116.01" cy="337.44" r="2.1" fill="#f00"/><circle cx="119.76" cy="336.62" r="2.1" fill="#f00"/><circle cx="123.5" cy="335.6" r="2.1" fill="#f00"/><circle cx="127.25" cy="334.31" r="2.1" fill="#f00"/><circle cx="130.99" cy="333.27" r="2.1" fill="#f00"/><circle cx="134.74" cy="332.17" r="2.1" fill="#f00"/><circle cx="138.49" cy="330.91" r="2.1" fill="#f00"/><circle cx="142.23" cy="329.3" r="2.1" fill="#f00"/><circle cx="145.98" cy="327.61" r="2.1" fill="#f00"/><circle cx="149.72" cy="324.97" r="2.1" fill="#f00"/><circle cx="153.47" cy="321.83" r="2.1" fill="#f00"/><circle cx="157.21" cy="318.33" r="2.1" fill="#f00"/><circle cx="160.96" cy="308.6" r="2.1" fill="#f00"/><circle cx="164.7" cy="298.36" r="2.1" fill="#f00"/><circle cx="168.45" cy="284.21" r="2.1" fill="#f00"/><circle cx="172.2" cy="270.88" r="2.1" fill="#f00"/><circle cx="175.94" cy="244.98" r="2.1" fill="#f00"/><circle cx="179.69" cy="238.51" r="2.1" fill="#f00"/><circle cx="183.43" cy="235.29" r="2.1" fill="#f00"/><circle cx="187.18" cy="235.89" r="2.1" fill="#f00"/><circle cx="190.92" cy="236.84" r="2.1" fill="#f00"/><circle cx="194.67" cy="240.78" r="2.1" fill="#f00"/><circle cx="198.42" cy="247.33" r="2.1" fill="#f00"/><circle cx="202.16" cy="259.25" r="2.1" fill="#f00"/><circle cx="205.91" cy="262.48" r="2.1" fill="#f00"/><circle cx="209.65" cy="271.12" r="2.1" fill="#f00"/><circle cx="213.4" cy="278.71" r="2.1" fill="#f00"/><circle cx="217.14" cy="283.06" r="2.1" fill="#f00"/><circle cx="220.89" cy="291.34" r="2.1" fill="#f00"/><circle cx="224.63" cy="300.94" r="2.1" fill="#f00"/><circle cx="228.38" cy="307.78" r="2.1" fill="#f00"/><circle cx="232.13" cy="314.28" r="2.1" fill="#f00"/><circle cx="235.87" cy="319.68" r="2.1" fill="#f00"/><circle cx="239.62" cy="324.18" r="2.1" fill="#f00"/><circle cx="243.36" cy="328.58" r="2.1" fill="#f00"/><circle cx="247.11" cy="331.38" r="2.1" fill="#f00"/><circle cx="250.85" cy="334.88" r="2.1" fill="#f00"/><circle cx="254.6" cy="337.78" r="2.1" fill="#f00"/><circle cx="258.34" cy="340.48" r="2.1" fill="#f00"/><circle cx="262.09" cy="343.38" r="2.1" fill="#f00"/><circle cx="265.84" cy="346.18" r="2.1" fill="#f00"/><circle cx="269.58" cy="348.73" r="2.1" fill="#f00"/><circle cx="273.33" cy="351.03" r="2.1" fill="#f00"/>
<path d="M41.1 356.2 L44.85 355.95 L48.59 355.7 L52.34 355.45 L56.08 355.2 L59.83 354.95 L63.57 354.7 L67.32 354.45 L71.06 354.2 L74.81 353.41 L78.56 352.62 L82.3 351.83 L86.05 350.52 L89.79 347.52 L93.54 346.11 L97.28 344.71 L101.03 343.3 L104.78 341.9 L108.52 341.04 L112.27 340.18 L116.01 339.32 L119.76 338.46 L123.5 337.41 L127.25 336.07 L130.99 334.9 L134.74 333.9 L138.49 332.4 L142.23 330.6 L145.98 329.1 L149.72 326.7 L153.47 323.8 L157.21 320.37 L160.96 311 L164.7 300.9 L168.45 286.9 L172.2 274.1 L175.94 249.4 L179.69 243.5 L183.43 239.8 L187.18 240.5 L190.92 241.5 L194.67 245.2 L198.42 251.6 L202.16 262.9 L205.91 265.7 L209.65 274.1 L213.4 281.4 L217.14 285.7 L220.89 292.2 L224.63 301.8 L228.38 308.6 L232.13 315.1 L235.87 320.5 L239.62 325 L243.36 329.4 L247.11 332.2 L250.85 335.7 L254.6 338.6 L258.34 341.3 L262.09 344.2 L265.84 347 L269.58 349.5 L273.33 351.8" fill="none" stroke="#0000ff" stroke-width="0.55"/>
<path d="M41.1 354.1L43.4 358.19L38.8 358.19Z" fill="#00f"/><path d="M44.85 353.85L47.15 357.94L42.55 357.94Z" fill="#00f"/><path d="M48.59 353.6L50.89 357.69L46.29 357.69Z" fill="#00f"/><path d="M52.34 353.35L54.64 357.44L50.04 357.44Z" fill="#00f"/><path d="M56.08 353.1L58.38 357.19L53.78 357.19Z" fill="#00f"/><path d="M59.83 352.85L62.13 356.94L57.53 356.94Z" fill="#00f"/><path d="M63.57 352.6L65.87 356.69L61.27 356.69Z" fill="#00f"/><path d="M67.32 352.35L69.62 356.44L65.02 356.44Z" fill="#00f"/><path d="M71.06 352.1L73.36 356.19L68.76 356.19Z" fill="#00f"/><path d="M74.81 351.31L77.11 355.41L72.51 355.41Z" fill="#00f"/><path d="M78.56 350.52L80.86 354.62L76.26 354.62Z" fill="#00f"/><path d="M82.3 349.73L84.6 353.83L80 353.83Z" fill="#00f"/><path d="M86.05 348.42L88.35 352.51L83.75 352.51Z" fill="#00f"/><path d="M89.79 345.42L92.09 349.51L87.49 349.51Z" fill="#00f"/><path d="M93.54 344.01L95.84 348.11L91.24 348.11Z" fill="#00f"/><path d="M97.28 342.61L99.58 346.7L94.98 346.7Z" fill="#00f"/><path d="M101.03 341.2L103.33 345.3L98.73 345.3Z" fill="#00f"/><path d="M104.78 339.8L107.08 343.89L102.48 343.89Z" fill="#00f"/><path d="M108.52 338.94L110.82 343.03L106.22 343.03Z" fill="#00f"/><path d="M112.27 338.08L114.57 342.17L109.97 342.17Z" fill="#00f"/><path d="M116.01 337.22L118.31 341.31L113.71 341.31Z" fill="#00f"/><path d="M119.76 336.36L122.06 340.45L117.46 340.45Z" fill="#00f"/><path d="M123.5 335.31L125.8 339.41L121.2 339.41Z" fill="#00f"/><path d="M127.25 333.97L129.55 338.06L124.95 338.06Z" fill="#00f"/><path d="M130.99 332.8L133.29 336.9L128.69 336.9Z" fill="#00f"/><path d="M134.74 331.8L137.04 335.9L132.44 335.9Z" fill="#00f"/><path d="M138.49 330.3L140.79 334.4L136.19 334.4Z" fill="#00f"/><path d="M142.23 328.5L144.53 332.6L139.93 332.6Z" fill="#00f"/><path d="M145.98 327L148.28 331.1L143.68 331.1Z" fill="#00f"/><path d="M149.72 324.6L152.02 328.69L147.42 328.69Z" fill="#00f"/><path d="M153.47 321.7L155.77 325.8L151.17 325.8Z" fill="#00f"/><path d="M157.21 318.27L159.51 322.36L154.91 322.36Z" fill="#00f"/><path d="M160.96 308.9L163.26 313L158.66 313Z" fill="#00f"/><path d="M164.7 298.8L167 302.89L162.4 302.89Z" fill="#00f"/><path d="M168.45 284.8L170.75 288.89L166.15 288.89Z" fill="#00f"/><path d="M172.2 272L174.5 276.1L169.9 276.1Z" fill="#00f"/><path d="M175.94 247.3L178.24 251.4L173.64 251.4Z" fill="#00f"/><path d="M179.69 241.4L181.99 245.5L177.39 245.5Z" fill="#00f"/><path d="M183.43 237.7L185.73 241.8L181.13 241.8Z" fill="#00f"/><path d="M187.18 238.4L189.48 242.5L184.88 242.5Z" fill="#00f"/><path d="M190.92 239.4L193.22 243.5L188.62 243.5Z" fill="#00f"/><path d="M194.67 243.1L196.97 247.19L192.37 247.19Z" fill="#00f"/><path d="M198.42 249.5L200.72 253.59L196.12 253.59Z" fill="#00f"/><path d="M202.16 260.8L204.46 264.89L199.86 264.89Z" fill="#00f"/><path d="M205.91 263.6L208.21 267.69L203.61 267.69Z" fill="#00f"/><path d="M209.65 272L211.95 276.1L207.35 276.1Z" fill="#00f"/><path d="M213.4 279.3L215.7 283.39L211.1 283.39Z" fill="#00f"/><path d="M217.14 283.6L219.44 287.69L214.84 287.69Z" fill="#00f"/><path d="M220.89 290.1L223.19 294.19L218.59 294.19Z" fill="#00f"/><path d="M224.63 299.7L226.93 303.8L222.33 303.8Z" fill="#00f"/><path d="M228.38 306.5L230.68 310.6L226.08 310.6Z" fill="#00f"/><path d="M232.13 313L234.43 317.1L229.83 317.1Z" fill="#00f"/><path d="M235.87 318.4L238.17 322.5L233.57 322.5Z" fill="#00f"/><path d="M239.62 322.9L241.92 327L237.32 327Z" fill="#00f"/><path d="M243.36 327.3L245.66 331.39L241.06 331.39Z" fill="#00f"/><path d="M247.11 330.1L249.41 334.19L244.81 334.19Z" fill="#00f"/><path d="M250.85 333.6L253.15 337.69L248.55 337.69Z" fill="#00f"/><path d="M254.6 336.5L256.9 340.6L252.3 340.6Z" fill="#00f"/><path d="M258.34 339.2L260.64 343.3L256.04 343.3Z" fill="#00f"/><path d="M262.09 342.1L264.39 346.19L259.79 346.19Z" fill="#00f"/><path d="M265.84 344.9L268.14 349L263.54 349Z" fill="#00f"/><path d="M269.58 347.4L271.88 351.5L267.28 351.5Z" fill="#00f"/><path d="M273.33 349.7L275.63 353.8L271.03 353.8Z" fill="#00f"/>
<path d="M41.1 378 L44.85 378 L48.59 378 L52.34 378 L56.08 378 L59.83 378 L63.57 378 L67.32 378 L71.06 378 L74.81 378 L78.56 378 L82.3 378 L86.05 378 L89.79 378 L93.54 378 L97.28 378 L101.03 378 L104.78 378 L108.52 378 L112.27 378 L116.01 378 L119.76 378 L123.5 378 L127.25 378 L130.99 377.93 L134.74 377.85 L138.49 377.77 L142.23 377.69 L145.98 377.61 L149.72 377.53 L153.47 377.44 L157.21 377.34 L160.96 377.2 L164.7 377.06 L168.45 376.93 L172.2 376.79 L175.94 376.65 L179.69 376.68 L183.43 376.8 L187.18 376.93 L190.92 377.05 L194.67 377.18 L198.42 377.31 L202.16 377.45 L205.91 377.63 L209.65 377.81 L213.4 378 L217.14 378.18 L220.89 378.36 L224.63 378.53 L228.38 378.71 L232.13 379.17 L235.87 380 L239.62 380.5 L243.36 380.5 L247.11 379.8 L250.85 378.3 L254.6 375.4 L258.34 372.3 L262.09 369.2 L265.84 366.4 L269.58 364.3 L273.33 362.5" fill="none" stroke="#000000" stroke-width="0.55"/>
<rect x="39.3" y="376.2" width="3.6" height="3.6" fill="#000"/><rect x="43.05" y="376.2" width="3.6" height="3.6" fill="#000"/><rect x="46.79" y="376.2" width="3.6" height="3.6" fill="#000"/><rect x="50.54" y="376.2" width="3.6" height="3.6" fill="#000"/><rect x="54.28" y="376.2" width="3.6" height="3.6" fill="#000"/><rect x="58.03" y="376.2" width="3.6" height="3.6" fill="#000"/><rect x="61.77" y="376.2" width="3.6" height="3.6" fill="#000"/><rect x="65.52" y="376.2" width="3.6" height="3.6" fill="#000"/><rect x="69.26" y="376.2" width="3.6" height="3.6" fill="#000"/><rect x="73.01" y="376.2" width="3.6" height="3.6" fill="#000"/><rect x="76.76" y="376.2" width="3.6" height="3.6" fill="#000"/><rect x="80.5" y="376.2" width="3.6" height="3.6" fill="#000"/><rect x="84.25" y="376.2" width="3.6" height="3.6" fill="#000"/><rect x="87.99" y="376.2" width="3.6" height="3.6" fill="#000"/><rect x="91.74" y="376.2" width="3.6" height="3.6" fill="#000"/><rect x="95.48" y="376.2" width="3.6" height="3.6" fill="#000"/><rect x="99.23" y="376.2" width="3.6" height="3.6" fill="#000"/><rect x="102.98" y="376.2" width="3.6" height="3.6" fill="#000"/><rect x="106.72" y="376.2" width="3.6" height="3.6" fill="#000"/><rect x="110.47" y="376.2" width="3.6" height="3.6" fill="#000"/><rect x="114.21" y="376.2" width="3.6" height="3.6" fill="#000"/><rect x="117.96" y="376.2" width="3.6" height="3.6" fill="#000"/><rect x="121.7" y="376.2" width="3.6" height="3.6" fill="#000"/><rect x="125.45" y="376.2" width="3.6" height="3.6" fill="#000"/><rect x="129.19" y="376.13" width="3.6" height="3.6" fill="#000"/><rect x="132.94" y="376.05" width="3.6" height="3.6" fill="#000"/><rect x="136.69" y="375.97" width="3.6" height="3.6" fill="#000"/><rect x="140.43" y="375.89" width="3.6" height="3.6" fill="#000"/><rect x="144.18" y="375.81" width="3.6" height="3.6" fill="#000"/><rect x="147.92" y="375.73" width="3.6" height="3.6" fill="#000"/><rect x="151.67" y="375.64" width="3.6" height="3.6" fill="#000"/><rect x="155.41" y="375.54" width="3.6" height="3.6" fill="#000"/><rect x="159.16" y="375.4" width="3.6" height="3.6" fill="#000"/><rect x="162.9" y="375.26" width="3.6" height="3.6" fill="#000"/><rect x="166.65" y="375.13" width="3.6" height="3.6" fill="#000"/><rect x="170.4" y="374.99" width="3.6" height="3.6" fill="#000"/><rect x="174.14" y="374.85" width="3.6" height="3.6" fill="#000"/><rect x="177.89" y="374.88" width="3.6" height="3.6" fill="#000"/><rect x="181.63" y="375" width="3.6" height="3.6" fill="#000"/><rect x="185.38" y="375.13" width="3.6" height="3.6" fill="#000"/><rect x="189.12" y="375.25" width="3.6" height="3.6" fill="#000"/><rect x="192.87" y="375.38" width="3.6" height="3.6" fill="#000"/><rect x="196.62" y="375.51" width="3.6" height="3.6" fill="#000"/><rect x="200.36" y="375.65" width="3.6" height="3.6" fill="#000"/><rect x="204.11" y="375.83" width="3.6" height="3.6" fill="#000"/><rect x="207.85" y="376.01" width="3.6" height="3.6" fill="#000"/><rect x="211.6" y="376.2" width="3.6" height="3.6" fill="#000"/><rect x="215.34" y="376.38" width="3.6" height="3.6" fill="#000"/><rect x="219.09" y="376.56" width="3.6" height="3.6" fill="#000"/><rect x="222.83" y="376.73" width="3.6" height="3.6" fill="#000"/><rect x="226.58" y="376.91" width="3.6" height="3.6" fill="#000"/><rect x="230.33" y="377.37" width="3.6" height="3.6" fill="#000"/><rect x="234.07" y="378.2" width="3.6" height="3.6" fill="#000"/><rect x="237.82" y="378.7" width="3.6" height="3.6" fill="#000"/><rect x="241.56" y="378.7" width="3.6" height="3.6" fill="#000"/><rect x="245.31" y="378" width="3.6" height="3.6" fill="#000"/><rect x="249.05" y="376.5" width="3.6" height="3.6" fill="#000"/><rect x="252.8" y="373.6" width="3.6" height="3.6" fill="#000"/><rect x="256.54" y="370.5" width="3.6" height="3.6" fill="#000"/><rect x="260.29" y="367.4" width="3.6" height="3.6" fill="#000"/><rect x="264.04" y="364.6" width="3.6" height="3.6" fill="#000"/><rect x="267.78" y="362.5" width="3.6" height="3.6" fill="#000"/><rect x="271.53" y="360.7" width="3.6" height="3.6" fill="#000"/>
<path d="M41.1 379.8 L44.85 379.82 L48.59 379.83 L52.34 379.85 L56.08 379.87 L59.83 379.89 L63.57 379.9 L67.32 379.92 L71.06 379.94 L74.81 379.96 L78.56 379.97 L82.3 379.99 L86.05 380.01 L89.79 380.02 L93.54 380.04 L97.28 380.06 L101.03 380.08 L104.78 380.09 L108.52 380.11 L112.27 380.13 L116.01 380.14 L119.76 380.16 L123.5 380.18 L127.25 380.2 L130.99 380.11 L134.74 380 L138.49 379.9 L142.23 379.79 L145.98 379.68 L149.72 379.57 L153.47 379.46 L157.21 379.32 L160.96 379.13 L164.7 378.94 L168.45 378.75 L172.2 378.56 L175.94 378.38 L179.69 378.39 L183.43 378.53 L187.18 378.67 L190.92 378.81 L194.67 378.95 L198.42 379.09 L202.16 379.24 L205.91 379.38 L209.65 379.52 L213.4 379.66 L217.14 379.81 L220.89 379.91 L224.63 379.95 L228.38 379.98 L232.13 380 L235.87 380 L239.62 380.2 L243.36 379.3 L247.11 378.3 L250.85 376.6 L254.6 373.4 L258.34 370.3 L262.09 367.2 L265.84 364.7 L269.58 362.6 L273.33 360.7" fill="none" stroke="#ff0000" stroke-width="0.55"/>
<circle cx="41.1" cy="379.8" r="2.1" fill="#f00"/><circle cx="44.85" cy="379.82" r="2.1" fill="#f00"/><circle cx="48.59" cy="379.83" r="2.1" fill="#f00"/><circle cx="52.34" cy="379.85" r="2.1" fill="#f00"/><circle cx="56.08" cy="379.87" r="2.1" fill="#f00"/><circle cx="59.83" cy="379.89" r="2.1" fill="#f00"/><circle cx="63.57" cy="379.9" r="2.1" fill="#f00"/><circle cx="67.32" cy="379.92" r="2.1" fill="#f00"/><circle cx="71.06" cy="379.94" r="2.1" fill="#f00"/><circle cx="74.81" cy="379.96" r="2.1" fill="#f00"/><circle cx="78.56" cy="379.97" r="2.1" fill="#f00"/><circle cx="82.3" cy="379.99" r="2.1" fill="#f00"/><circle cx="86.05" cy="380.01" r="2.1" fill="#f00"/><circle cx="89.79" cy="380.02" r="2.1" fill="#f00"/><circle cx="93.54" cy="380.04" r="2.1" fill="#f00"/><circle cx="97.28" cy="380.06" r="2.1" fill="#f00"/><circle cx="101.03" cy="380.08" r="2.1" fill="#f00"/><circle cx="104.78" cy="380.09" r="2.1" fill="#f00"/><circle cx="108.52" cy="380.11" r="2.1" fill="#f00"/><circle cx="112.27" cy="380.13" r="2.1" fill="#f00"/><circle cx="116.01" cy="380.14" r="2.1" fill="#f00"/><circle cx="119.76" cy="380.16" r="2.1" fill="#f00"/><circle cx="123.5" cy="380.18" r="2.1" fill="#f00"/><circle cx="127.25" cy="380.2" r="2.1" fill="#f00"/><circle cx="130.99" cy="380.11" r="2.1" fill="#f00"/><circle cx="134.74" cy="380" r="2.1" fill="#f00"/><circle cx="138.49" cy="379.9" r="2.1" fill="#f00"/><circle cx="142.23" cy="379.79" r="2.1" fill="#f00"/><circle cx="145.98" cy="379.68" r="2.1" fill="#f00"/><circle cx="149.72" cy="379.57" r="2.1" fill="#f00"/><circle cx="153.47" cy="379.46" r="2.1" fill="#f00"/><circle cx="157.21" cy="379.32" r="2.1" fill="#f00"/><circle cx="160.96" cy="379.13" r="2.1" fill="#f00"/><circle cx="164.7" cy="378.94" r="2.1" fill="#f00"/><circle cx="168.45" cy="378.75" r="2.1" fill="#f00"/><circle cx="172.2" cy="378.56" r="2.1" fill="#f00"/><circle cx="175.94" cy="378.38" r="2.1" fill="#f00"/><circle cx="179.69" cy="378.39" r="2.1" fill="#f00"/><circle cx="183.43" cy="378.53" r="2.1" fill="#f00"/><circle cx="187.18" cy="378.67" r="2.1" fill="#f00"/><circle cx="190.92" cy="378.81" r="2.1" fill="#f00"/><circle cx="194.67" cy="378.95" r="2.1" fill="#f00"/><circle cx="198.42" cy="379.09" r="2.1" fill="#f00"/><circle cx="202.16" cy="379.24" r="2.1" fill="#f00"/><circle cx="205.91" cy="379.38" r="2.1" fill="#f00"/><circle cx="209.65" cy="379.52" r="2.1" fill="#f00"/><circle cx="213.4" cy="379.66" r="2.1" fill="#f00"/><circle cx="217.14" cy="379.81" r="2.1" fill="#f00"/><circle cx="220.89" cy="379.91" r="2.1" fill="#f00"/><circle cx="224.63" cy="379.95" r="2.1" fill="#f00"/><circle cx="228.38" cy="379.98" r="2.1" fill="#f00"/><circle cx="232.13" cy="380" r="2.1" fill="#f00"/><circle cx="235.87" cy="380" r="2.1" fill="#f00"/><circle cx="239.62" cy="380.2" r="2.1" fill="#f00"/><circle cx="243.36" cy="379.3" r="2.1" fill="#f00"/><circle cx="247.11" cy="378.3" r="2.1" fill="#f00"/><circle cx="250.85" cy="376.6" r="2.1" fill="#f00"/><circle cx="254.6" cy="373.4" r="2.1" fill="#f00"/><circle cx="258.34" cy="370.3" r="2.1" fill="#f00"/><circle cx="262.09" cy="367.2" r="2.1" fill="#f00"/><circle cx="265.84" cy="364.7" r="2.1" fill="#f00"/><circle cx="269.58" cy="362.6" r="2.1" fill="#f00"/><circle cx="273.33" cy="360.7" r="2.1" fill="#f00"/>
<path d="M41.1 377.6 L44.85 377.59 L48.59 377.57 L52.34 377.56 L56.08 377.55 L59.83 377.54 L63.57 377.52 L67.32 377.51 L71.06 377.5 L74.81 377.48 L78.56 377.47 L82.3 377.46 L86.05 377.44 L89.79 377.43 L93.54 377.42 L97.28 377.41 L101.03 377.39 L104.78 377.38 L108.52 377.37 L112.27 377.35 L116.01 377.34 L119.76 377.33 L123.5 377.32 L127.25 377.3 L130.99 377.16 L134.74 376.98 L138.49 376.8 L142.23 376.63 L145.98 376.45 L149.72 376.27 L153.47 376.1 L157.21 375.89 L160.96 375.65 L164.7 375.41 L168.45 375.17 L172.2 374.94 L175.94 374.7 L179.69 374.73 L183.43 374.95 L187.18 375.17 L190.92 375.39 L194.67 375.61 L198.42 375.83 L202.16 376.1 L205.91 376.48 L209.65 376.87 L213.4 377.26 L217.14 377.65 L220.89 377.83 L224.63 377.62 L228.38 377.41 L232.13 376.9 L235.87 376 L239.62 375.5 L243.36 375 L247.11 374 L250.85 372.4 L254.6 369.6 L258.34 366.2 L262.09 363.1 L265.84 360.5 L269.58 358.2 L273.33 356.6" fill="none" stroke="#0000ff" stroke-width="0.55"/>
<path d="M41.1 375.5L43.4 379.6L38.8 379.6Z" fill="#00f"/><path d="M44.85 375.49L47.15 379.58L42.55 379.58Z" fill="#00f"/><path d="M48.59 375.47L50.89 379.57L46.29 379.57Z" fill="#00f"/><path d="M52.34 375.46L54.64 379.56L50.04 379.56Z" fill="#00f"/><path d="M56.08 375.45L58.38 379.54L53.78 379.54Z" fill="#00f"/><path d="M59.83 375.44L62.13 379.53L57.53 379.53Z" fill="#00f"/><path d="M63.57 375.42L65.87 379.52L61.27 379.52Z" fill="#00f"/><path d="M67.32 375.41L69.62 379.5L65.02 379.5Z" fill="#00f"/><path d="M71.06 375.4L73.36 379.49L68.76 379.49Z" fill="#00f"/><path d="M74.81 375.38L77.11 379.48L72.51 379.48Z" fill="#00f"/><path d="M78.56 375.37L80.86 379.47L76.26 379.47Z" fill="#00f"/><path d="M82.3 375.36L84.6 379.45L80 379.45Z" fill="#00f"/><path d="M86.05 375.34L88.35 379.44L83.75 379.44Z" fill="#00f"/><path d="M89.79 375.33L92.09 379.43L87.49 379.43Z" fill="#00f"/><path d="M93.54 375.32L95.84 379.41L91.24 379.41Z" fill="#00f"/><path d="M97.28 375.31L99.58 379.4L94.98 379.4Z" fill="#00f"/><path d="M101.03 375.29L103.33 379.39L98.73 379.39Z" fill="#00f"/><path d="M104.78 375.28L107.08 379.38L102.48 379.38Z" fill="#00f"/><path d="M108.52 375.27L110.82 379.36L106.22 379.36Z" fill="#00f"/><path d="M112.27 375.25L114.57 379.35L109.97 379.35Z" fill="#00f"/><path d="M116.01 375.24L118.31 379.34L113.71 379.34Z" fill="#00f"/><path d="M119.76 375.23L122.06 379.32L117.46 379.32Z" fill="#00f"/><path d="M123.5 375.22L125.8 379.31L121.2 379.31Z" fill="#00f"/><path d="M127.25 375.2L129.55 379.3L124.95 379.3Z" fill="#00f"/><path d="M130.99 375.06L133.29 379.15L128.69 379.15Z" fill="#00f"/><path d="M134.74 374.88L137.04 378.98L132.44 378.98Z" fill="#00f"/><path d="M138.49 374.7L140.79 378.8L136.19 378.8Z" fill="#00f"/><path d="M142.23 374.53L144.53 378.62L139.93 378.62Z" fill="#00f"/><path d="M145.98 374.35L148.28 378.45L143.68 378.45Z" fill="#00f"/><path d="M149.72 374.17L152.02 378.27L147.42 378.27Z" fill="#00f"/><path d="M153.47 374L155.77 378.09L151.17 378.09Z" fill="#00f"/><path d="M157.21 373.79L159.51 377.89L154.91 377.89Z" fill="#00f"/><path d="M160.96 373.55L163.26 377.65L158.66 377.65Z" fill="#00f"/><path d="M164.7 373.31L167 377.41L162.4 377.41Z" fill="#00f"/><path d="M168.45 373.07L170.75 377.17L166.15 377.17Z" fill="#00f"/><path d="M172.2 372.84L174.5 376.93L169.9 376.93Z" fill="#00f"/><path d="M175.94 372.6L178.24 376.69L173.64 376.69Z" fill="#00f"/><path d="M179.69 372.63L181.99 376.73L177.39 376.73Z" fill="#00f"/><path d="M183.43 372.85L185.73 376.95L181.13 376.95Z" fill="#00f"/><path d="M187.18 373.07L189.48 377.17L184.88 377.17Z" fill="#00f"/><path d="M190.92 373.29L193.22 377.39L188.62 377.39Z" fill="#00f"/><path d="M194.67 373.51L196.97 377.61L192.37 377.61Z" fill="#00f"/><path d="M198.42 373.73L200.72 377.83L196.12 377.83Z" fill="#00f"/><path d="M202.16 374L204.46 378.09L199.86 378.09Z" fill="#00f"/><path d="M205.91 374.38L208.21 378.48L203.61 378.48Z" fill="#00f"/><path d="M209.65 374.77L211.95 378.87L207.35 378.87Z" fill="#00f"/><path d="M213.4 375.16L215.7 379.26L211.1 379.26Z" fill="#00f"/><path d="M217.14 375.55L219.44 379.64L214.84 379.64Z" fill="#00f"/><path d="M220.89 375.73L223.19 379.82L218.59 379.82Z" fill="#00f"/><path d="M224.63 375.52L226.93 379.62L222.33 379.62Z" fill="#00f"/><path d="M228.38 375.31L230.68 379.41L226.08 379.41Z" fill="#00f"/><path d="M232.13 374.8L234.43 378.89L229.83 378.89Z" fill="#00f"/><path d="M235.87 373.9L238.17 378L233.57 378Z" fill="#00f"/><path d="M239.62 373.4L241.92 377.5L237.32 377.5Z" fill="#00f"/><path d="M243.36 372.9L245.66 377L241.06 377Z" fill="#00f"/><path d="M247.11 371.9L249.41 376L244.81 376Z" fill="#00f"/><path d="M250.85 370.3L253.15 374.39L248.55 374.39Z" fill="#00f"/><path d="M254.6 367.5L256.9 371.6L252.3 371.6Z" fill="#00f"/><path d="M258.34 364.1L260.64 368.19L256.04 368.19Z" fill="#00f"/><path d="M262.09 361L264.39 365.1L259.79 365.1Z" fill="#00f"/><path d="M265.84 358.4L268.14 362.5L263.54 362.5Z" fill="#00f"/><path d="M269.58 356.1L271.88 360.19L267.28 360.19Z" fill="#00f"/><path d="M273.33 354.5L275.63 358.6L271.03 358.6Z" fill="#00f"/>
</g>
<rect x="41.1" y="215.6" width="234.1" height="168.4" fill="none" stroke="#404040" stroke-width="1.25"/>
<line x1="41.1" y1="384" x2="41.1" y2="382" stroke="#404040" stroke-width="0.9"/>
<line x1="50.46" y1="384" x2="50.46" y2="380.4" stroke="#404040" stroke-width="0.9"/>
<text x="50.46" y="396.3" font-size="9.22" text-anchor="middle" textLength="9.67" lengthAdjust="spacingAndGlyphs">30</text>
<line x1="59.83" y1="384" x2="59.83" y2="382" stroke="#404040" stroke-width="0.9"/>
<line x1="69.19" y1="384" x2="69.19" y2="380.4" stroke="#404040" stroke-width="0.9"/>
<text x="69.19" y="396.3" font-size="9.22" text-anchor="middle" textLength="9.67" lengthAdjust="spacingAndGlyphs">40</text>
<line x1="78.56" y1="384" x2="78.56" y2="382" stroke="#404040" stroke-width="0.9"/>
<line x1="87.92" y1="384" x2="87.92" y2="380.4" stroke="#404040" stroke-width="0.9"/>
<text x="87.92" y="396.3" font-size="9.22" text-anchor="middle" textLength="9.67" lengthAdjust="spacingAndGlyphs">50</text>
<line x1="97.28" y1="384" x2="97.28" y2="382" stroke="#404040" stroke-width="0.9"/>
<line x1="106.65" y1="384" x2="106.65" y2="380.4" stroke="#404040" stroke-width="0.9"/>
<text x="106.65" y="396.3" font-size="9.22" text-anchor="middle" textLength="9.67" lengthAdjust="spacingAndGlyphs">60</text>
<line x1="116.01" y1="384" x2="116.01" y2="382" stroke="#404040" stroke-width="0.9"/>
<line x1="125.38" y1="384" x2="125.38" y2="380.4" stroke="#404040" stroke-width="0.9"/>
<text x="125.38" y="396.3" font-size="9.22" text-anchor="middle" textLength="9.67" lengthAdjust="spacingAndGlyphs">70</text>
<line x1="134.74" y1="384" x2="134.74" y2="382" stroke="#404040" stroke-width="0.9"/>
<line x1="144.1" y1="384" x2="144.1" y2="380.4" stroke="#404040" stroke-width="0.9"/>
<text x="144.1" y="396.3" font-size="9.22" text-anchor="middle" textLength="9.67" lengthAdjust="spacingAndGlyphs">80</text>
<line x1="153.47" y1="384" x2="153.47" y2="382" stroke="#404040" stroke-width="0.9"/>
<line x1="162.83" y1="384" x2="162.83" y2="380.4" stroke="#404040" stroke-width="0.9"/>
<text x="162.83" y="396.3" font-size="9.22" text-anchor="middle" textLength="9.67" lengthAdjust="spacingAndGlyphs">90</text>
<line x1="172.2" y1="384" x2="172.2" y2="382" stroke="#404040" stroke-width="0.9"/>
<line x1="181.56" y1="384" x2="181.56" y2="380.4" stroke="#404040" stroke-width="0.9"/>
<text x="181.56" y="396.3" font-size="9.22" text-anchor="middle" textLength="14.51" lengthAdjust="spacingAndGlyphs">100</text>
<line x1="190.92" y1="384" x2="190.92" y2="382" stroke="#404040" stroke-width="0.9"/>
<line x1="200.29" y1="384" x2="200.29" y2="380.4" stroke="#404040" stroke-width="0.9"/>
<text x="200.29" y="396.3" font-size="9.22" text-anchor="middle" textLength="14.51" lengthAdjust="spacingAndGlyphs">110</text>
<line x1="209.65" y1="384" x2="209.65" y2="382" stroke="#404040" stroke-width="0.9"/>
<line x1="219.02" y1="384" x2="219.02" y2="380.4" stroke="#404040" stroke-width="0.9"/>
<text x="219.02" y="396.3" font-size="9.22" text-anchor="middle" textLength="14.51" lengthAdjust="spacingAndGlyphs">120</text>
<line x1="228.38" y1="384" x2="228.38" y2="382" stroke="#404040" stroke-width="0.9"/>
<line x1="237.74" y1="384" x2="237.74" y2="380.4" stroke="#404040" stroke-width="0.9"/>
<text x="237.74" y="396.3" font-size="9.22" text-anchor="middle" textLength="14.51" lengthAdjust="spacingAndGlyphs">130</text>
<line x1="247.11" y1="384" x2="247.11" y2="382" stroke="#404040" stroke-width="0.9"/>
<line x1="256.47" y1="384" x2="256.47" y2="380.4" stroke="#404040" stroke-width="0.9"/>
<text x="256.47" y="396.3" font-size="9.22" text-anchor="middle" textLength="14.51" lengthAdjust="spacingAndGlyphs">140</text>
<line x1="265.84" y1="384" x2="265.84" y2="382" stroke="#404040" stroke-width="0.9"/>
<line x1="275.2" y1="384" x2="275.2" y2="380.4" stroke="#404040" stroke-width="0.9"/>
<text x="275.2" y="396.3" font-size="9.22" text-anchor="middle" textLength="14.51" lengthAdjust="spacingAndGlyphs">150</text>
<line x1="41.1" y1="374.09" x2="44.9" y2="374.09" stroke="#404040" stroke-width="0.9"/>
<text x="35.5" y="376.47" font-size="8.8" text-anchor="end" textLength="18.46" lengthAdjust="spacingAndGlyphs">1000</text>
<line x1="41.1" y1="364.19" x2="43.3" y2="364.19" stroke="#404040" stroke-width="0.9"/>
<line x1="41.1" y1="354.28" x2="44.9" y2="354.28" stroke="#404040" stroke-width="0.9"/>
<text x="35.5" y="356.66" font-size="8.8" text-anchor="end" textLength="18.46" lengthAdjust="spacingAndGlyphs">2000</text>
<line x1="41.1" y1="344.38" x2="43.3" y2="344.38" stroke="#404040" stroke-width="0.9"/>
<line x1="41.1" y1="334.47" x2="44.9" y2="334.47" stroke="#404040" stroke-width="0.9"/>
<text x="35.5" y="336.85" font-size="8.8" text-anchor="end" textLength="18.46" lengthAdjust="spacingAndGlyphs">3000</text>
<line x1="41.1" y1="324.56" x2="43.3" y2="324.56" stroke="#404040" stroke-width="0.9"/>
<line x1="41.1" y1="314.66" x2="44.9" y2="314.66" stroke="#404040" stroke-width="0.9"/>
<text x="35.5" y="317.03" font-size="8.8" text-anchor="end" textLength="18.46" lengthAdjust="spacingAndGlyphs">4000</text>
<line x1="41.1" y1="304.75" x2="43.3" y2="304.75" stroke="#404040" stroke-width="0.9"/>
<line x1="41.1" y1="294.85" x2="44.9" y2="294.85" stroke="#404040" stroke-width="0.9"/>
<text x="35.5" y="297.22" font-size="8.8" text-anchor="end" textLength="18.46" lengthAdjust="spacingAndGlyphs">5000</text>
<line x1="41.1" y1="284.94" x2="43.3" y2="284.94" stroke="#404040" stroke-width="0.9"/>
<line x1="41.1" y1="275.04" x2="44.9" y2="275.04" stroke="#404040" stroke-width="0.9"/>
<text x="35.5" y="277.41" font-size="8.8" text-anchor="end" textLength="18.46" lengthAdjust="spacingAndGlyphs">6000</text>
<line x1="41.1" y1="265.13" x2="43.3" y2="265.13" stroke="#404040" stroke-width="0.9"/>
<line x1="41.1" y1="255.22" x2="44.9" y2="255.22" stroke="#404040" stroke-width="0.9"/>
<text x="35.5" y="257.6" font-size="8.8" text-anchor="end" textLength="18.46" lengthAdjust="spacingAndGlyphs">7000</text>
<line x1="41.1" y1="245.32" x2="43.3" y2="245.32" stroke="#404040" stroke-width="0.9"/>
<line x1="41.1" y1="235.41" x2="44.9" y2="235.41" stroke="#404040" stroke-width="0.9"/>
<text x="35.5" y="237.79" font-size="8.8" text-anchor="end" textLength="18.46" lengthAdjust="spacingAndGlyphs">8000</text>
<line x1="41.1" y1="225.51" x2="43.3" y2="225.51" stroke="#404040" stroke-width="0.9"/>
<line x1="41.1" y1="215.6" x2="44.9" y2="215.6" stroke="#404040" stroke-width="0.9"/>
<text x="35.5" y="217.98" font-size="8.8" text-anchor="end" textLength="18.46" lengthAdjust="spacingAndGlyphs">9000</text>
<line x1="275.2" y1="384" x2="271.4" y2="384" stroke="#404040" stroke-width="0.9"/>
<text x="280" y="386.42" font-size="8.06" textLength="14.79" lengthAdjust="spacingAndGlyphs">0.00</text>
<line x1="275.2" y1="375.58" x2="273" y2="375.58" stroke="#404040" stroke-width="0.9"/>
<line x1="275.2" y1="367.16" x2="271.4" y2="367.16" stroke="#404040" stroke-width="0.9"/>
<text x="280" y="369.58" font-size="8.06" textLength="14.79" lengthAdjust="spacingAndGlyphs">0.08</text>
<line x1="275.2" y1="358.74" x2="273" y2="358.74" stroke="#404040" stroke-width="0.9"/>
<line x1="275.2" y1="350.32" x2="271.4" y2="350.32" stroke="#404040" stroke-width="0.9"/>
<text x="280" y="352.74" font-size="8.06" textLength="14.79" lengthAdjust="spacingAndGlyphs">0.16</text>
<line x1="275.2" y1="341.9" x2="273" y2="341.9" stroke="#404040" stroke-width="0.9"/>
<line x1="275.2" y1="333.48" x2="271.4" y2="333.48" stroke="#404040" stroke-width="0.9"/>
<text x="280" y="335.9" font-size="8.06" textLength="14.79" lengthAdjust="spacingAndGlyphs">0.24</text>
<line x1="275.2" y1="325.06" x2="273" y2="325.06" stroke="#404040" stroke-width="0.9"/>
<line x1="275.2" y1="316.64" x2="271.4" y2="316.64" stroke="#404040" stroke-width="0.9"/>
<text x="280" y="319.06" font-size="8.06" textLength="14.79" lengthAdjust="spacingAndGlyphs">0.32</text>
<line x1="275.2" y1="308.22" x2="273" y2="308.22" stroke="#404040" stroke-width="0.9"/>
<line x1="275.2" y1="299.8" x2="271.4" y2="299.8" stroke="#404040" stroke-width="0.9"/>
<text x="280" y="302.22" font-size="8.06" textLength="14.79" lengthAdjust="spacingAndGlyphs">0.40</text>
<line x1="275.2" y1="291.38" x2="273" y2="291.38" stroke="#404040" stroke-width="0.9"/>
<line x1="275.2" y1="282.96" x2="271.4" y2="282.96" stroke="#404040" stroke-width="0.9"/>
<text x="280" y="285.38" font-size="8.06" textLength="14.79" lengthAdjust="spacingAndGlyphs">0.48</text>
<line x1="275.2" y1="274.54" x2="273" y2="274.54" stroke="#404040" stroke-width="0.9"/>
<line x1="275.2" y1="266.12" x2="271.4" y2="266.12" stroke="#404040" stroke-width="0.9"/>
<text x="280" y="268.54" font-size="8.06" textLength="14.79" lengthAdjust="spacingAndGlyphs">0.56</text>
<line x1="275.2" y1="257.7" x2="273" y2="257.7" stroke="#404040" stroke-width="0.9"/>
<line x1="275.2" y1="249.28" x2="271.4" y2="249.28" stroke="#404040" stroke-width="0.9"/>
<text x="280" y="251.7" font-size="8.06" textLength="14.79" lengthAdjust="spacingAndGlyphs">0.64</text>
<line x1="275.2" y1="240.86" x2="273" y2="240.86" stroke="#404040" stroke-width="0.9"/>
<line x1="275.2" y1="232.44" x2="271.4" y2="232.44" stroke="#404040" stroke-width="0.9"/>
<text x="280" y="234.86" font-size="8.06" textLength="14.79" lengthAdjust="spacingAndGlyphs">0.72</text>
<line x1="275.2" y1="224.02" x2="273" y2="224.02" stroke="#404040" stroke-width="0.9"/>
<line x1="275.2" y1="215.6" x2="271.4" y2="215.6" stroke="#404040" stroke-width="0.9"/>
<text x="280" y="218.02" font-size="8.06" textLength="14.79" lengthAdjust="spacingAndGlyphs">0.80</text>
<rect x="52.6" y="262.2" width="49" height="36.1" fill="#fff" stroke="#999" stroke-width="0.8"/>
<line x1="54.4" y1="268.8" x2="62.1" y2="268.8" stroke="#999" stroke-width="0.8"/>
<line x1="69.1" y1="268.8" x2="76.7" y2="268.8" stroke="#999" stroke-width="0.8"/>
<rect x="63.53" y="266.73" width="4.14" height="4.14" fill="#000"/>
<text x="79.7" y="272.22" font-size="9.5">1k</text>
<line x1="54.4" y1="280.9" x2="62.1" y2="280.9" stroke="#ff8080" stroke-width="0.8"/>
<line x1="69.1" y1="280.9" x2="76.7" y2="280.9" stroke="#ff8080" stroke-width="0.8"/>
<circle cx="65.6" cy="280.9" r="2.42" fill="#f00"/>
<text x="79.7" y="284.32" font-size="9.5">10k</text>
<line x1="54.4" y1="292.9" x2="62.1" y2="292.9" stroke="#8080ff" stroke-width="0.8"/>
<line x1="69.1" y1="292.9" x2="76.7" y2="292.9" stroke="#8080ff" stroke-width="0.8"/>
<path d="M65.6 290.48L68.24 295.19L62.95 295.19Z" fill="#00f"/>
<text x="79.7" y="296.32" font-size="9.5">100k</text>
<text x="59.8" y="229.0" font-size="12.6">(c)</text>
<line x1="52.3" y1="307" x2="149.6" y2="307" stroke="#8c8c8c" stroke-width="1.0"/>
<path d="M52.3 307L57.3 305.85L57.3 308.15Z" fill="#000"/>
<line x1="212" y1="371.4" x2="247.4" y2="371.4" stroke="#8c8c8c" stroke-width="1.0"/>
<path d="M247.4 371.4L242.4 370.25L242.4 372.55Z" fill="#000"/>
<g transform="translate(7.3 314.6) rotate(-90)"><text x="0" y="0" font-size="12" font-family="'Liberation Serif', serif" font-weight="normal">&#949;<tspan font-family="'Liberation Sans', sans-serif" font-weight="bold" font-size="7.68" dx="0.2" dy="3.9">r</tspan></text></g>
<g transform="translate(309.7 302.9) rotate(-90)"><text x="0" y="0" font-size="10" text-anchor="middle">tan&#948;</text></g>
<text x="132.7" y="413.6" font-size="9.85">Temp.<tspan dx="4.43">(</tspan><tspan font-size="5.12" font-weight="normal" dx="0.49" dy="-2.66">o</tspan><tspan dx="0.89" dy="2.66">C</tspan><tspan dx="0.59">)</tspan></text>
</svg></body></html>
